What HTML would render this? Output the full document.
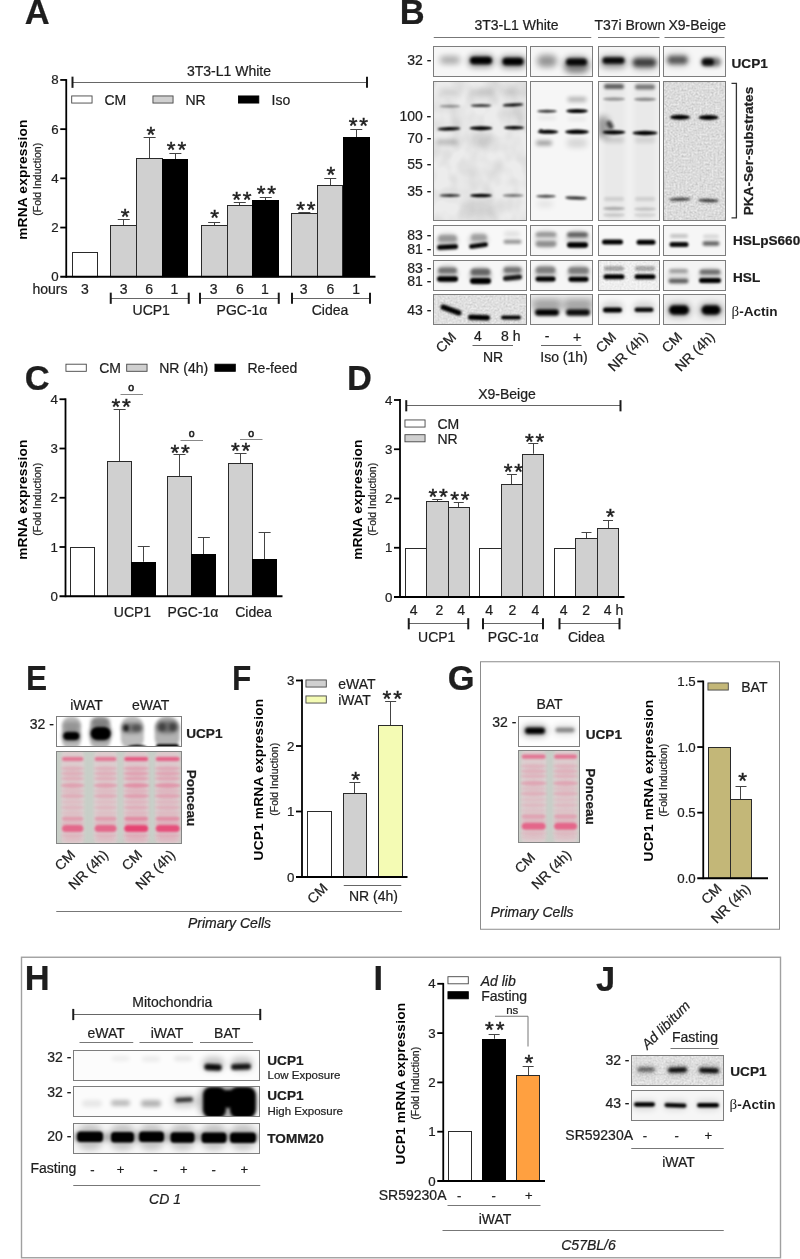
<!DOCTYPE html>
<html lang="en"><head><meta charset="utf-8"><title>Figure</title>
<style>html,body{margin:0;padding:0;background:#fff}svg{display:block}text{white-space:pre}</style></head>
<body>
<svg width="800" height="1259" viewBox="0 0 800 1259" font-family="'Liberation Sans', Arial, sans-serif" fill="#1e1e1e"><defs><filter id="b06" x="-50%" y="-200%" width="200%" height="500%"><feGaussianBlur stdDeviation="0.6"/></filter><filter id="b08" x="-50%" y="-200%" width="200%" height="500%"><feGaussianBlur stdDeviation="0.85"/></filter><filter id="b1" x="-50%" y="-200%" width="200%" height="500%"><feGaussianBlur stdDeviation="1.1"/></filter><filter id="b15" x="-50%" y="-200%" width="200%" height="500%"><feGaussianBlur stdDeviation="1.5"/></filter><filter id="b2" x="-50%" y="-200%" width="200%" height="500%"><feGaussianBlur stdDeviation="2.0"/></filter><filter id="b3" x="-50%" y="-200%" width="200%" height="500%"><feGaussianBlur stdDeviation="3.0"/></filter><filter id="b4" x="-50%" y="-200%" width="200%" height="500%"><feGaussianBlur stdDeviation="4.5"/></filter><filter id="grain" x="0" y="0" width="100%" height="100%"><feTurbulence type="fractalNoise" baseFrequency="0.5" numOctaves="2" seed="3"/><feColorMatrix type="matrix" values="0 0 0 0 0  0 0 0 0 0  0 0 0 0 0  0.9 0.9 0 0 -0.6"/></filter><filter id="cloud" x="0" y="0" width="100%" height="100%"><feTurbulence type="fractalNoise" baseFrequency="0.06 0.05" numOctaves="2" seed="7" result="n"/><feColorMatrix in="n" type="matrix" values="0 0 0 0 0  0 0 0 0 0  0 0 0 0 0  1.8 0 0 0 -0.65"/></filter><clipPath id="c1"><rect x="433.50" y="46.50" width="93.00" height="30.00"/></clipPath><clipPath id="c2"><rect x="530.50" y="46.50" width="62.00" height="30.00"/></clipPath><clipPath id="c3"><rect x="598.50" y="46.50" width="61.00" height="30.00"/></clipPath><clipPath id="c4"><rect x="663.50" y="46.50" width="62.00" height="30.00"/></clipPath><clipPath id="c5"><rect x="433.50" y="81.50" width="93.00" height="139.00"/></clipPath><clipPath id="c6"><rect x="530.50" y="81.50" width="62.00" height="139.00"/></clipPath><clipPath id="c7"><rect x="598.50" y="81.50" width="61.00" height="139.00"/></clipPath><clipPath id="c8"><rect x="663.50" y="81.50" width="62.00" height="139.00"/></clipPath><clipPath id="c9"><rect x="433.50" y="225.50" width="93.00" height="30.00"/></clipPath><clipPath id="c10"><rect x="530.50" y="225.50" width="62.00" height="30.00"/></clipPath><clipPath id="c11"><rect x="598.50" y="225.50" width="61.00" height="30.00"/></clipPath><clipPath id="c12"><rect x="663.50" y="225.50" width="62.00" height="30.00"/></clipPath><clipPath id="c13"><rect x="433.50" y="260.50" width="93.00" height="30.00"/></clipPath><clipPath id="c14"><rect x="530.50" y="260.50" width="62.00" height="30.00"/></clipPath><clipPath id="c15"><rect x="598.50" y="260.50" width="61.00" height="30.00"/></clipPath><clipPath id="c16"><rect x="663.50" y="260.50" width="62.00" height="30.00"/></clipPath><clipPath id="c17"><rect x="433.50" y="294.50" width="93.00" height="30.00"/></clipPath><clipPath id="c18"><rect x="530.50" y="294.50" width="62.00" height="30.00"/></clipPath><clipPath id="c19"><rect x="598.50" y="294.50" width="61.00" height="30.00"/></clipPath><clipPath id="c20"><rect x="663.50" y="294.50" width="62.00" height="30.00"/></clipPath><clipPath id="c21"><rect x="56.50" y="716.50" width="125.00" height="30.00"/></clipPath><clipPath id="c22"><rect x="56.50" y="751.50" width="125.00" height="92.00"/></clipPath><clipPath id="c23"><rect x="518.50" y="716.50" width="61.00" height="30.00"/></clipPath><clipPath id="c24"><rect x="518.50" y="750.50" width="61.00" height="92.00"/></clipPath><clipPath id="c25"><rect x="73.50" y="1050.50" width="186.00" height="30.00"/></clipPath><clipPath id="c26"><rect x="73.50" y="1086.50" width="186.00" height="30.00"/></clipPath><clipPath id="c27"><rect x="73.50" y="1123.50" width="186.00" height="30.00"/></clipPath><clipPath id="c28"><rect x="631.50" y="1055.50" width="92.00" height="30.00"/></clipPath><clipPath id="c29"><rect x="631.50" y="1090.50" width="92.00" height="30.00"/></clipPath></defs>
<line x1="72.5" y1="82.5" x2="367" y2="82.5" stroke="#666" stroke-width="1"/>
<line x1="72.5" y1="76.65" x2="72.5" y2="87.85" stroke="#1a1a1a" stroke-width="2"/>
<line x1="367" y1="76.65" x2="367" y2="87.85" stroke="#1a1a1a" stroke-width="2"/>
<rect x="71.70" y="95.95" width="20.35" height="7.10" fill="#fff" stroke="#444" stroke-width="0.9"/>
<rect x="152.95" y="95.95" width="20.10" height="7.10" fill="#d0d0d0" stroke="#444" stroke-width="0.9"/>
<rect x="238.45" y="95.95" width="20.35" height="7.10" fill="#000" stroke="#000" stroke-width="0.9"/>
<rect x="72.50" y="252.50" width="25.00" height="24.25" fill="#fff" stroke="#2a2a2a" stroke-width="1"/>
<line x1="123.5" y1="219.25" x2="123.5" y2="225" stroke="#444" stroke-width="1"/>
<line x1="117.75" y1="219.5" x2="129.75" y2="219.5" stroke="#444" stroke-width="1"/>
<rect x="110.50" y="225.50" width="26.00" height="51.25" fill="#d0d0d0" stroke="#2a2a2a" stroke-width="1"/>
<line x1="149.5" y1="137.25" x2="149.5" y2="158.25" stroke="#444" stroke-width="1"/>
<line x1="143.625" y1="137.5" x2="155.625" y2="137.5" stroke="#444" stroke-width="1"/>
<rect x="136.50" y="158.50" width="26.00" height="118.25" fill="#d0d0d0" stroke="#2a2a2a" stroke-width="1"/>
<line x1="175.5" y1="153.25" x2="175.5" y2="159" stroke="#444" stroke-width="1"/>
<line x1="169.375" y1="153.5" x2="181.375" y2="153.5" stroke="#444" stroke-width="1"/>
<rect x="162.50" y="159.50" width="25.00" height="117.25" fill="#000" stroke="#000" stroke-width="1"/>
<line x1="214.5" y1="222" x2="214.5" y2="225" stroke="#444" stroke-width="1"/>
<line x1="208.125" y1="222.5" x2="220.125" y2="222.5" stroke="#444" stroke-width="1"/>
<rect x="201.50" y="225.50" width="26.00" height="51.25" fill="#d0d0d0" stroke="#2a2a2a" stroke-width="1"/>
<line x1="239.5" y1="203" x2="239.5" y2="205.5" stroke="#444" stroke-width="1"/>
<line x1="233.75" y1="202.5" x2="245.75" y2="202.5" stroke="#444" stroke-width="1"/>
<rect x="227.50" y="205.50" width="25.00" height="71.25" fill="#d0d0d0" stroke="#2a2a2a" stroke-width="1"/>
<line x1="265.5" y1="197.5" x2="265.5" y2="200" stroke="#444" stroke-width="1"/>
<line x1="259.75" y1="197.5" x2="271.75" y2="197.5" stroke="#444" stroke-width="1"/>
<rect x="252.50" y="200.50" width="26.00" height="76.25" fill="#000" stroke="#000" stroke-width="1"/>
<line x1="304.5" y1="212.5" x2="304.5" y2="213.25" stroke="#444" stroke-width="1"/>
<line x1="298.375" y1="212.5" x2="310.375" y2="212.5" stroke="#444" stroke-width="1"/>
<rect x="291.50" y="213.50" width="26.00" height="63.25" fill="#d0d0d0" stroke="#2a2a2a" stroke-width="1"/>
<line x1="330.5" y1="178.25" x2="330.5" y2="185.25" stroke="#444" stroke-width="1"/>
<line x1="324.25" y1="178.5" x2="336.25" y2="178.5" stroke="#444" stroke-width="1"/>
<rect x="317.50" y="185.50" width="25.00" height="91.25" fill="#d0d0d0" stroke="#2a2a2a" stroke-width="1"/>
<line x1="356.5" y1="129.25" x2="356.5" y2="137" stroke="#444" stroke-width="1"/>
<line x1="350.25" y1="129.5" x2="362.25" y2="129.5" stroke="#444" stroke-width="1"/>
<rect x="343.50" y="137.50" width="26.00" height="139.25" fill="#000" stroke="#000" stroke-width="1"/>
<line x1="66.25" y1="79.1" x2="66.25" y2="277.65" stroke="#000" stroke-width="1.8"/>
<line x1="60.25" y1="276.75" x2="375.5" y2="276.75" stroke="#000" stroke-width="1.8"/>
<line x1="60.25" y1="79.94999999999999" x2="66.25" y2="79.94999999999999" stroke="#000" stroke-width="1.8"/>
<line x1="60.25" y1="129.14999999999998" x2="66.25" y2="129.14999999999998" stroke="#000" stroke-width="1.8"/>
<line x1="60.25" y1="178.35" x2="66.25" y2="178.35" stroke="#000" stroke-width="1.8"/>
<line x1="60.25" y1="227.55" x2="66.25" y2="227.55" stroke="#000" stroke-width="1.8"/>
<text transform="translate(27.1 179.6) rotate(-90) scale(1.06 1)" font-size="13" font-weight="bold" text-anchor="middle" fill="#000" letter-spacing="0.15">mRNA expression</text>
<line x1="110.75" y1="298.5" x2="188.75" y2="298.5" stroke="#666" stroke-width="1"/>
<line x1="110.75" y1="292.65" x2="110.75" y2="303.85" stroke="#1a1a1a" stroke-width="2"/>
<line x1="188.75" y1="292.65" x2="188.75" y2="303.85" stroke="#1a1a1a" stroke-width="2"/>
<line x1="200" y1="298.5" x2="278.75" y2="298.5" stroke="#666" stroke-width="1"/>
<line x1="200" y1="292.65" x2="200" y2="303.85" stroke="#1a1a1a" stroke-width="2"/>
<line x1="278.75" y1="292.65" x2="278.75" y2="303.85" stroke="#1a1a1a" stroke-width="2"/>
<line x1="292" y1="298.5" x2="370" y2="298.5" stroke="#666" stroke-width="1"/>
<line x1="292" y1="292.65" x2="292" y2="303.85" stroke="#1a1a1a" stroke-width="2"/>
<line x1="370" y1="292.65" x2="370" y2="303.85" stroke="#1a1a1a" stroke-width="2"/>
<line x1="433.75" y1="37.5" x2="591.25" y2="37.5" stroke="#777" stroke-width="1"/>
<line x1="598" y1="37.5" x2="659.5" y2="37.5" stroke="#777" stroke-width="1"/>
<line x1="664.5" y1="37.5" x2="724.5" y2="37.5" stroke="#777" stroke-width="1"/>
<g clip-path="url(#c1)"><rect x="433.50" y="46.50" width="93.00" height="30.00" fill="#f6f6f6"/><rect x="440.00" y="56.50" width="20.00" height="7.00" rx="3.50" fill="#000" opacity="0.35" filter="url(#b3)"/><rect x="470.00" y="56.75" width="22.00" height="7.50" rx="3.75" fill="#000" opacity="1" filter="url(#b15)"/><rect x="468.00" y="55.00" width="26.00" height="12.00" rx="6.00" fill="#000" opacity="0.45" filter="url(#b3)"/><rect x="502.50" y="57.75" width="21.00" height="7.50" rx="3.75" fill="#000" opacity="1" filter="url(#b15)"/><rect x="500.00" y="56.00" width="26.00" height="12.00" rx="6.00" fill="#000" opacity="0.45" filter="url(#b3)"/></g><rect x="433.50" y="46.50" width="93.00" height="30.00" fill="none" stroke="#7d7d7d" stroke-width="1"/>
<g clip-path="url(#c2)"><rect x="530.50" y="46.50" width="62.00" height="30.00" fill="#f6f6f6"/><rect x="537.00" y="55.00" width="20.00" height="12.00" rx="6.00" fill="#000" opacity="0.4" filter="url(#b3)"/><rect x="566.00" y="58.50" width="21.00" height="7.00" rx="3.50" fill="#000" opacity="0.95" filter="url(#b15)"/><rect x="563.50" y="57.00" width="26.00" height="16.00" rx="8.00" fill="#000" opacity="0.5" filter="url(#b3)"/></g><rect x="530.50" y="46.50" width="62.00" height="30.00" fill="none" stroke="#7d7d7d" stroke-width="1"/>
<g clip-path="url(#c3)"><rect x="598.50" y="46.50" width="61.00" height="30.00" fill="#f4f4f4"/><rect x="602.50" y="57.25" width="22.00" height="6.50" rx="3.25" fill="#000" opacity="0.95" filter="url(#b15)"/><rect x="600.50" y="56.00" width="26.00" height="12.00" rx="6.00" fill="#000" opacity="0.4" filter="url(#b3)"/><rect x="633.00" y="58.50" width="23.00" height="8.00" rx="4.00" fill="#000" opacity="0.65" filter="url(#b2)"/><rect x="631.50" y="56.50" width="26.00" height="13.00" rx="6.50" fill="#000" opacity="0.3" filter="url(#b3)"/></g><rect x="598.50" y="46.50" width="61.00" height="30.00" fill="none" stroke="#7d7d7d" stroke-width="1"/>
<g clip-path="url(#c4)"><rect x="663.50" y="46.50" width="62.00" height="30.00" fill="#f6f6f6"/><rect x="667.50" y="56.00" width="20.00" height="8.00" rx="4.00" fill="#000" opacity="0.55" filter="url(#b2)"/><rect x="665.50" y="53.50" width="24.00" height="13.00" rx="6.50" fill="#000" opacity="0.2" filter="url(#b3)"/><rect x="702.00" y="58.50" width="12.00" height="7.00" rx="3.50" fill="#000" opacity="0.9" filter="url(#b15)"/><rect x="701.00" y="57.50" width="20.00" height="9.00" rx="4.50" fill="#000" opacity="0.55" filter="url(#b2)"/></g><rect x="663.50" y="46.50" width="62.00" height="30.00" fill="none" stroke="#7d7d7d" stroke-width="1"/>
<g clip-path="url(#c5)"><rect x="433.50" y="81.50" width="93.00" height="139.00" fill="#ececec"/><rect x="433.50" y="81.50" width="93.00" height="139.00" fill="#000" opacity="0.1" filter="url(#cloud)"/><rect x="439.00" y="89.00" width="22.00" height="7.00" rx="3.50" fill="#000" opacity="0.13" filter="url(#b3)"/><ellipse cx="450.00" cy="106.30" rx="10.50" ry="1.50" fill="#000" opacity="0.35" filter="url(#b08)"/><ellipse cx="449.00" cy="128.80" rx="11.50" ry="1.80" fill="#000" opacity="1" filter="url(#b08)" transform="rotate(-2 449 128.79999999999998)"/><ellipse cx="450.00" cy="195.50" rx="10.50" ry="1.50" fill="#000" opacity="0.8" filter="url(#b08)"/><rect x="470.00" y="89.00" width="22.00" height="7.00" rx="3.50" fill="#000" opacity="0.13" filter="url(#b3)"/><ellipse cx="481.00" cy="105.60" rx="10.50" ry="1.50" fill="#000" opacity="0.75" filter="url(#b08)"/><ellipse cx="481.00" cy="128.20" rx="11.50" ry="2.00" fill="#000" opacity="1" filter="url(#b08)"/><ellipse cx="481.00" cy="195.50" rx="11.00" ry="1.80" fill="#000" opacity="1" filter="url(#b08)"/><rect x="502.00" y="89.00" width="22.00" height="7.00" rx="3.50" fill="#000" opacity="0.13" filter="url(#b3)"/><ellipse cx="513.00" cy="104.90" rx="10.50" ry="1.50" fill="#000" opacity="1" filter="url(#b08)" transform="rotate(-3 513 104.89999999999999)"/><ellipse cx="514.00" cy="127.80" rx="10.00" ry="1.70" fill="#000" opacity="1" filter="url(#b08)"/><ellipse cx="513.00" cy="195.50" rx="10.50" ry="1.40" fill="#000" opacity="0.5" filter="url(#b08)"/><rect x="437.00" y="139.50" width="20.00" height="5.00" rx="2.50" fill="#000" opacity="0.2" filter="url(#b2)"/><rect x="469.00" y="132.00" width="22.00" height="16.00" rx="8.00" fill="#000" opacity="0.12" filter="url(#b4)"/><rect x="463.00" y="201.00" width="30.00" height="18.00" rx="9.00" fill="#000" opacity="0.1" filter="url(#b4)"/><rect x="516.00" y="100.00" width="8.00" height="30.00" rx="4.00" fill="#000" opacity="0.08" filter="url(#b3)"/></g><rect x="433.50" y="81.50" width="93.00" height="139.00" fill="none" stroke="#7d7d7d" stroke-width="1"/>
<g clip-path="url(#c6)"><rect x="530.50" y="81.50" width="62.00" height="139.00" fill="#f6f6f6"/><ellipse cx="547.00" cy="111.30" rx="10.00" ry="1.50" fill="#000" opacity="0.8" filter="url(#b08)"/><ellipse cx="577.00" cy="111.00" rx="11.00" ry="2.00" fill="#000" opacity="1" filter="url(#b08)"/><rect x="567.50" y="97.25" width="19.00" height="4.50" rx="2.25" fill="#000" opacity="0.3" filter="url(#b2)"/><ellipse cx="548.00" cy="131.80" rx="10.50" ry="2.00" fill="#000" opacity="1" filter="url(#b08)"/><rect x="539.00" y="129.00" width="4.00" height="3.00" rx="1.50" fill="#000" opacity="0.7" filter="url(#b08)"/><ellipse cx="577.00" cy="131.80" rx="12.00" ry="2.30" fill="#000" opacity="1" filter="url(#b08)"/><rect x="536.00" y="140.75" width="16.00" height="4.50" rx="2.25" fill="#000" opacity="0.4" filter="url(#b2)"/><rect x="567.00" y="139.00" width="20.00" height="8.00" rx="4.00" fill="#000" opacity="0.15" filter="url(#b3)"/><ellipse cx="546.00" cy="196.30" rx="10.00" ry="1.50" fill="#000" opacity="0.7" filter="url(#b08)"/><ellipse cx="576.00" cy="198.00" rx="11.00" ry="1.60" fill="#000" opacity="0.85" filter="url(#b08)" transform="rotate(2 576 198)"/><rect x="537.00" y="201.50" width="16.00" height="5.00" rx="2.50" fill="#000" opacity="0.1" filter="url(#b3)"/><rect x="538.00" y="116.50" width="18.00" height="3.00" rx="1.50" fill="#000" opacity="0.08" filter="url(#b2)"/><rect x="568.00" y="117.50" width="18.00" height="3.00" rx="1.50" fill="#000" opacity="0.08" filter="url(#b2)"/></g><rect x="530.50" y="81.50" width="62.00" height="139.00" fill="none" stroke="#7d7d7d" stroke-width="1"/>
<g clip-path="url(#c7)"><rect x="598.50" y="81.50" width="61.00" height="139.00" fill="#f2f2f2"/><rect x="604.00" y="84.00" width="20.00" height="5.00" rx="2.50" fill="#000" opacity="0.6" filter="url(#b15)"/><rect x="635.00" y="84.50" width="20.00" height="5.00" rx="2.50" fill="#000" opacity="0.5" filter="url(#b15)"/><ellipse cx="614.00" cy="99.00" rx="11.00" ry="1.75" fill="#000" opacity="0.35" filter="url(#b1)"/><ellipse cx="645.00" cy="99.30" rx="11.00" ry="1.75" fill="#000" opacity="0.4" filter="url(#b1)"/><ellipse cx="614.00" cy="132.30" rx="11.50" ry="2.10" fill="#000" opacity="1" filter="url(#b08)"/><ellipse cx="645.00" cy="133.00" rx="12.50" ry="2.20" fill="#000" opacity="1" filter="url(#b08)"/><rect x="607.50" y="120.50" width="5.00" height="9.00" rx="2.50" fill="#000" opacity="0.7" filter="url(#b15)" transform="rotate(-30 610 125)"/><rect x="597.00" y="116.00" width="12.00" height="22.00" rx="6.00" fill="#000" opacity="0.35" filter="url(#b3)"/><rect x="604.00" y="137.50" width="20.00" height="5.00" rx="2.50" fill="#000" opacity="0.15" filter="url(#b2)"/><rect x="635.00" y="137.50" width="20.00" height="5.00" rx="2.50" fill="#000" opacity="0.12" filter="url(#b2)"/><rect x="604.00" y="197.50" width="20.00" height="3.00" rx="1.50" fill="#000" opacity="0.15" filter="url(#b15)"/><rect x="635.00" y="197.50" width="20.00" height="3.00" rx="1.50" fill="#000" opacity="0.15" filter="url(#b15)"/><ellipse cx="614.00" cy="208.50" rx="11.00" ry="1.80" fill="#000" opacity="0.26" filter="url(#b1)"/><ellipse cx="645.00" cy="209.00" rx="11.00" ry="1.80" fill="#000" opacity="0.16" filter="url(#b1)"/><ellipse cx="614.00" cy="215.00" rx="11.00" ry="1.80" fill="#000" opacity="0.14" filter="url(#b1)"/><ellipse cx="645.00" cy="215.00" rx="11.00" ry="1.80" fill="#000" opacity="0.1" filter="url(#b1)"/><rect x="602.00" y="75.00" width="24.00" height="150.00" rx="12.00" fill="#000" opacity="0.035" filter="url(#b3)"/><rect x="633.00" y="75.00" width="24.00" height="150.00" rx="12.00" fill="#000" opacity="0.035" filter="url(#b3)"/></g><rect x="598.50" y="81.50" width="61.00" height="139.00" fill="none" stroke="#7d7d7d" stroke-width="1"/>
<g clip-path="url(#c8)"><rect x="663.50" y="81.50" width="62.00" height="139.00" fill="#e9e9e9"/><ellipse cx="680.00" cy="117.20" rx="10.00" ry="2.50" fill="#000" opacity="1" filter="url(#b08)"/><ellipse cx="708.50" cy="117.50" rx="10.00" ry="2.50" fill="#000" opacity="1" filter="url(#b08)"/><ellipse cx="680.00" cy="199.30" rx="11.00" ry="1.80" fill="#000" opacity="0.65" filter="url(#b08)" transform="rotate(-2 680 199.3)"/><ellipse cx="708.50" cy="200.50" rx="10.50" ry="1.80" fill="#000" opacity="0.7" filter="url(#b08)" transform="rotate(2 708.5 200.5)"/><rect x="663.50" y="81.50" width="62.00" height="139.00" fill="#000" opacity="0.2" filter="url(#grain)"/></g><rect x="663.50" y="81.50" width="62.00" height="139.00" fill="none" stroke="#7d7d7d" stroke-width="1"/>
<g clip-path="url(#c9)"><rect x="433.50" y="225.50" width="93.00" height="30.00" fill="#f8f8f8"/><rect x="436.50" y="233.00" width="22.00" height="16.00" rx="8.00" fill="#000" opacity="0.14" filter="url(#b2)"/><rect x="468.00" y="232.50" width="21.00" height="15.00" rx="7.50" fill="#000" opacity="0.12" filter="url(#b2)"/><rect x="438.00" y="235.00" width="19.00" height="7.00" rx="3.50" fill="#000" opacity="0.28" filter="url(#b15)"/><rect x="437.00" y="244.50" width="21.00" height="5.00" rx="2.50" fill="#000" opacity="1" filter="url(#b1)" transform="rotate(-3 447.5 247)"/><rect x="471.00" y="234.00" width="16.00" height="7.00" rx="3.50" fill="#000" opacity="0.25" filter="url(#b15)"/><rect x="469.00" y="243.25" width="19.00" height="4.50" rx="2.25" fill="#000" opacity="1" filter="url(#b1)" transform="rotate(-8 478.5 245.5)"/><rect x="503.50" y="239.80" width="18.00" height="4.00" rx="2.00" fill="#000" opacity="0.4" filter="url(#b15)"/><rect x="504.00" y="231.50" width="16.00" height="5.00" rx="2.50" fill="#000" opacity="0.1" filter="url(#b2)"/></g><rect x="433.50" y="225.50" width="93.00" height="30.00" fill="none" stroke="#7d7d7d" stroke-width="1"/>
<g clip-path="url(#c10)"><rect x="530.50" y="225.50" width="62.00" height="30.00" fill="#f6f6f6"/><rect x="534.50" y="230.00" width="23.00" height="18.00" rx="9.00" fill="#000" opacity="0.1" filter="url(#b2)"/><rect x="566.00" y="230.00" width="23.00" height="18.00" rx="9.00" fill="#000" opacity="0.14" filter="url(#b2)"/><rect x="535.50" y="232.00" width="21.00" height="5.00" rx="2.50" fill="#000" opacity="0.3" filter="url(#b15)"/><rect x="535.50" y="241.00" width="21.00" height="6.00" rx="3.00" fill="#000" opacity="0.35" filter="url(#b15)"/><rect x="567.00" y="232.30" width="21.00" height="5.00" rx="2.50" fill="#000" opacity="0.55" filter="url(#b15)"/><rect x="567.00" y="242.25" width="21.00" height="5.50" rx="2.75" fill="#000" opacity="1" filter="url(#b1)"/></g><rect x="530.50" y="225.50" width="62.00" height="30.00" fill="none" stroke="#7d7d7d" stroke-width="1"/>
<g clip-path="url(#c11)"><rect x="598.50" y="225.50" width="61.00" height="30.00" fill="#f8f8f8"/><rect x="602.00" y="239.50" width="21.00" height="5.00" rx="2.50" fill="#000" opacity="1" filter="url(#b1)"/><rect x="636.50" y="239.80" width="19.00" height="5.00" rx="2.50" fill="#000" opacity="1" filter="url(#b1)"/></g><rect x="598.50" y="225.50" width="61.00" height="30.00" fill="none" stroke="#7d7d7d" stroke-width="1"/>
<g clip-path="url(#c12)"><rect x="663.50" y="225.50" width="62.00" height="30.00" fill="#f6f6f6"/><rect x="670.00" y="234.00" width="18.00" height="4.00" rx="2.00" fill="#000" opacity="0.2" filter="url(#b15)"/><rect x="669.50" y="242.00" width="19.00" height="5.00" rx="2.50" fill="#000" opacity="0.95" filter="url(#b1)"/><rect x="703.00" y="234.50" width="16.00" height="4.00" rx="2.00" fill="#000" opacity="0.12" filter="url(#b15)"/><rect x="702.50" y="241.25" width="17.00" height="4.50" rx="2.25" fill="#000" opacity="0.6" filter="url(#b15)"/></g><rect x="663.50" y="225.50" width="62.00" height="30.00" fill="none" stroke="#7d7d7d" stroke-width="1"/>
<g clip-path="url(#c13)"><rect x="433.50" y="260.50" width="93.00" height="30.00" fill="#f6f6f6"/><rect x="436.50" y="265.00" width="22.00" height="18.00" rx="9.00" fill="#000" opacity="0.16" filter="url(#b2)"/><rect x="469.00" y="267.00" width="23.00" height="18.00" rx="9.00" fill="#000" opacity="0.18" filter="url(#b2)"/><rect x="502.00" y="265.00" width="21.00" height="16.00" rx="8.00" fill="#000" opacity="0.14" filter="url(#b2)"/><rect x="438.00" y="267.50" width="19.00" height="6.00" rx="3.00" fill="#000" opacity="0.45" filter="url(#b15)"/><rect x="437.00" y="276.25" width="21.00" height="5.50" rx="2.75" fill="#000" opacity="1" filter="url(#b1)"/><rect x="470.50" y="268.50" width="20.00" height="7.00" rx="3.50" fill="#000" opacity="0.5" filter="url(#b15)"/><rect x="470.00" y="278.00" width="21.00" height="6.00" rx="3.00" fill="#000" opacity="1" filter="url(#b1)"/><rect x="503.50" y="267.00" width="18.00" height="6.00" rx="3.00" fill="#000" opacity="0.45" filter="url(#b15)"/><rect x="503.00" y="275.30" width="19.00" height="5.00" rx="2.50" fill="#000" opacity="0.9" filter="url(#b1)" transform="rotate(-6 512.5 277.8)"/></g><rect x="433.50" y="260.50" width="93.00" height="30.00" fill="none" stroke="#7d7d7d" stroke-width="1"/>
<g clip-path="url(#c14)"><rect x="530.50" y="260.50" width="62.00" height="30.00" fill="#f6f6f6"/><rect x="534.00" y="265.00" width="23.00" height="18.00" rx="9.00" fill="#000" opacity="0.15" filter="url(#b2)"/><rect x="567.00" y="265.00" width="23.00" height="18.00" rx="9.00" fill="#000" opacity="0.15" filter="url(#b2)"/><rect x="535.50" y="266.50" width="20.00" height="7.00" rx="3.50" fill="#000" opacity="0.4" filter="url(#b15)"/><rect x="535.50" y="276.50" width="20.00" height="5.00" rx="2.50" fill="#000" opacity="1" filter="url(#b1)"/><rect x="568.00" y="267.00" width="21.00" height="7.00" rx="3.50" fill="#000" opacity="0.4" filter="url(#b15)"/><rect x="568.50" y="276.70" width="20.00" height="5.00" rx="2.50" fill="#000" opacity="1" filter="url(#b1)"/></g><rect x="530.50" y="260.50" width="62.00" height="30.00" fill="none" stroke="#7d7d7d" stroke-width="1"/>
<g clip-path="url(#c15)"><rect x="598.50" y="260.50" width="61.00" height="30.00" fill="#f6f6f6"/><rect x="604.00" y="266.00" width="20.00" height="5.00" rx="2.50" fill="#000" opacity="0.3" filter="url(#b1)"/><rect x="603.50" y="274.30" width="21.00" height="5.00" rx="2.50" fill="#000" opacity="1" filter="url(#b1)"/><rect x="635.00" y="266.00" width="20.00" height="5.00" rx="2.50" fill="#000" opacity="0.3" filter="url(#b1)"/><rect x="634.50" y="274.30" width="21.00" height="5.00" rx="2.50" fill="#000" opacity="1" filter="url(#b1)"/><rect x="598.50" y="260.50" width="61.00" height="30.00" fill="#000" opacity="0.1" filter="url(#grain)"/></g><rect x="598.50" y="260.50" width="61.00" height="30.00" fill="none" stroke="#7d7d7d" stroke-width="1"/>
<g clip-path="url(#c16)"><rect x="663.50" y="260.50" width="62.00" height="30.00" fill="#f4f4f4"/><rect x="667.50" y="268.00" width="22.00" height="16.00" rx="8.00" fill="#000" opacity="0.08" filter="url(#b2)"/><rect x="698.50" y="268.00" width="23.00" height="16.00" rx="8.00" fill="#000" opacity="0.12" filter="url(#b2)"/><rect x="669.00" y="269.00" width="19.00" height="4.00" rx="2.00" fill="#000" opacity="0.3" filter="url(#b15)"/><rect x="668.50" y="278.75" width="20.00" height="4.50" rx="2.25" fill="#000" opacity="0.6" filter="url(#b15)"/><rect x="699.50" y="269.50" width="21.00" height="5.00" rx="2.50" fill="#000" opacity="0.5" filter="url(#b15)"/><rect x="699.00" y="278.00" width="22.00" height="5.00" rx="2.50" fill="#000" opacity="1" filter="url(#b1)"/></g><rect x="663.50" y="260.50" width="62.00" height="30.00" fill="none" stroke="#7d7d7d" stroke-width="1"/>
<g clip-path="url(#c17)"><rect x="433.50" y="294.50" width="93.00" height="30.00" fill="#ebebeb"/><rect x="440.00" y="307.25" width="22.00" height="5.50" rx="2.75" fill="#000" opacity="1" filter="url(#b1)" transform="rotate(20 451 310)"/><rect x="468.00" y="314.75" width="22.00" height="5.50" rx="2.75" fill="#000" opacity="1" filter="url(#b1)" transform="rotate(2 479 317.5)"/><rect x="501.00" y="315.40" width="20.00" height="4.20" rx="2.10" fill="#000" opacity="1" filter="url(#b1)"/><rect x="433.50" y="294.50" width="93.00" height="30.00" fill="#000" opacity="0.17" filter="url(#grain)"/></g><rect x="433.50" y="294.50" width="93.00" height="30.00" fill="none" stroke="#7d7d7d" stroke-width="1"/>
<g clip-path="url(#c18)"><rect x="530.50" y="294.50" width="62.00" height="30.00" fill="#f4f4f4"/><rect x="535.00" y="309.25" width="24.00" height="6.50" rx="3.25" fill="#000" opacity="1" filter="url(#b15)"/><rect x="566.00" y="309.25" width="24.00" height="6.50" rx="3.25" fill="#000" opacity="0.95" filter="url(#b15)"/><rect x="532.00" y="300.00" width="30.00" height="12.00" rx="6.00" fill="#000" opacity="0.3" filter="url(#b3)"/><rect x="563.00" y="300.00" width="30.00" height="12.00" rx="6.00" fill="#000" opacity="0.3" filter="url(#b3)"/><rect x="527.00" y="296.00" width="70.00" height="8.00" rx="4.00" fill="#000" opacity="0.1" filter="url(#b3)"/></g><rect x="530.50" y="294.50" width="62.00" height="30.00" fill="none" stroke="#7d7d7d" stroke-width="1"/>
<g clip-path="url(#c19)"><rect x="598.50" y="294.50" width="61.00" height="30.00" fill="#f8f8f8"/><rect x="603.00" y="307.50" width="19.00" height="5.00" rx="2.50" fill="#000" opacity="1" filter="url(#b1)"/><rect x="634.50" y="307.55" width="19.00" height="4.50" rx="2.25" fill="#000" opacity="0.95" filter="url(#b1)"/><rect x="601.50" y="302.00" width="22.00" height="12.00" rx="6.00" fill="#000" opacity="0.15" filter="url(#b3)"/><rect x="633.00" y="302.00" width="22.00" height="12.00" rx="6.00" fill="#000" opacity="0.15" filter="url(#b3)"/></g><rect x="598.50" y="294.50" width="61.00" height="30.00" fill="none" stroke="#7d7d7d" stroke-width="1"/>
<g clip-path="url(#c20)"><rect x="663.50" y="294.50" width="62.00" height="30.00" fill="#f0f0f0"/><rect x="669.00" y="305.25" width="20.00" height="9.50" rx="4.75" fill="#000" opacity="1" filter="url(#b15)"/><rect x="701.50" y="305.25" width="19.00" height="9.50" rx="4.75" fill="#000" opacity="1" filter="url(#b15)"/><rect x="667.00" y="303.00" width="24.00" height="14.00" rx="7.00" fill="#000" opacity="0.3" filter="url(#b3)"/><rect x="699.00" y="303.00" width="24.00" height="14.00" rx="7.00" fill="#000" opacity="0.3" filter="url(#b3)"/></g><rect x="663.50" y="294.50" width="62.00" height="30.00" fill="none" stroke="#7d7d7d" stroke-width="1"/>
<text x="731.5" y="316" font-size="13.6" font-weight="bold"><tspan font-family="'Liberation Serif', serif" font-weight="normal" font-size="15">β</tspan>-Actin</text>
<polyline points="731.5,83.3 736.4,83.3 736.4,217.8 731.5,217.8" fill="none" stroke="#333" stroke-width="1.3"/>
<line x1="472.5" y1="345.5" x2="513" y2="345.5" stroke="#666" stroke-width="1"/>
<line x1="541" y1="345.5" x2="581.5" y2="345.5" stroke="#666" stroke-width="1"/>
<rect x="65.95" y="364.20" width="20.35" height="7.10" fill="#fff" stroke="#444" stroke-width="0.9"/>
<rect x="126.70" y="364.20" width="20.35" height="7.10" fill="#d0d0d0" stroke="#444" stroke-width="0.9"/>
<rect x="214.95" y="364.20" width="20.35" height="7.10" fill="#000" stroke="#000" stroke-width="0.9"/>
<rect x="70.50" y="547.50" width="24.00" height="48.75" fill="#fff" stroke="#2a2a2a" stroke-width="1"/>
<line x1="119.5" y1="409.25" x2="119.5" y2="461.25" stroke="#444" stroke-width="1"/>
<line x1="113.625" y1="409.5" x2="125.625" y2="409.5" stroke="#444" stroke-width="1"/>
<rect x="107.50" y="461.50" width="24.00" height="134.75" fill="#d0d0d0" stroke="#2a2a2a" stroke-width="1"/>
<line x1="143.5" y1="547" x2="143.5" y2="561.75" stroke="#444" stroke-width="1"/>
<line x1="137.75" y1="546.5" x2="149.75" y2="546.5" stroke="#444" stroke-width="1"/>
<rect x="131.50" y="562.50" width="24.00" height="33.75" fill="#000" stroke="#000" stroke-width="1"/>
<line x1="179.5" y1="455" x2="179.5" y2="476.25" stroke="#444" stroke-width="1"/>
<line x1="173.5" y1="454.5" x2="185.5" y2="454.5" stroke="#444" stroke-width="1"/>
<rect x="167.50" y="476.50" width="24.00" height="119.75" fill="#d0d0d0" stroke="#2a2a2a" stroke-width="1"/>
<line x1="203.5" y1="537.5" x2="203.5" y2="554.25" stroke="#444" stroke-width="1"/>
<line x1="197.875" y1="537.5" x2="209.875" y2="537.5" stroke="#444" stroke-width="1"/>
<rect x="191.50" y="554.50" width="24.00" height="41.75" fill="#000" stroke="#000" stroke-width="1"/>
<line x1="240.5" y1="453.25" x2="240.5" y2="463.25" stroke="#444" stroke-width="1"/>
<line x1="234.5" y1="453.5" x2="246.5" y2="453.5" stroke="#444" stroke-width="1"/>
<rect x="228.50" y="463.50" width="24.00" height="132.75" fill="#d0d0d0" stroke="#2a2a2a" stroke-width="1"/>
<line x1="264.5" y1="532.5" x2="264.5" y2="559.25" stroke="#444" stroke-width="1"/>
<line x1="258.625" y1="532.5" x2="270.625" y2="532.5" stroke="#444" stroke-width="1"/>
<rect x="252.50" y="559.50" width="24.00" height="36.75" fill="#000" stroke="#000" stroke-width="1"/>
<line x1="120.5" y1="394.5" x2="143" y2="394.5" stroke="#888" stroke-width="1"/>
<line x1="180.5" y1="440.5" x2="203" y2="440.5" stroke="#888" stroke-width="1"/>
<line x1="240" y1="439.5" x2="262.5" y2="439.5" stroke="#888" stroke-width="1"/>
<line x1="65.5" y1="398.35" x2="65.5" y2="597.15" stroke="#000" stroke-width="1.8"/>
<line x1="59.5" y1="596.25" x2="282.5" y2="596.25" stroke="#000" stroke-width="1.8"/>
<line x1="59.5" y1="399.25" x2="65.5" y2="399.25" stroke="#000" stroke-width="1.8"/>
<line x1="59.5" y1="448.5" x2="65.5" y2="448.5" stroke="#000" stroke-width="1.8"/>
<line x1="59.5" y1="497.75" x2="65.5" y2="497.75" stroke="#000" stroke-width="1.8"/>
<line x1="59.5" y1="547.0" x2="65.5" y2="547.0" stroke="#000" stroke-width="1.8"/>
<text transform="translate(26.6 499.6) rotate(-90) scale(1.06 1)" font-size="13" font-weight="bold" text-anchor="middle" fill="#000" letter-spacing="0.15">mRNA expression</text>
<line x1="406.25" y1="405.5" x2="620.5" y2="405.5" stroke="#666" stroke-width="1"/>
<line x1="406.25" y1="400.15" x2="406.25" y2="411.35" stroke="#1a1a1a" stroke-width="2"/>
<line x1="620.5" y1="400.15" x2="620.5" y2="411.35" stroke="#1a1a1a" stroke-width="2"/>
<rect x="404.95" y="419.95" width="20.10" height="7.10" fill="#fff" stroke="#444" stroke-width="0.9"/>
<rect x="404.95" y="434.70" width="20.10" height="7.10" fill="#d0d0d0" stroke="#444" stroke-width="0.9"/>
<rect x="405.50" y="548.50" width="21.00" height="48.50" fill="#fff" stroke="#2a2a2a" stroke-width="1"/>
<line x1="437.5" y1="499.5" x2="437.5" y2="501.25" stroke="#444" stroke-width="1"/>
<line x1="432.25" y1="499.5" x2="442.25" y2="499.5" stroke="#444" stroke-width="1"/>
<rect x="426.50" y="501.50" width="22.00" height="95.50" fill="#d0d0d0" stroke="#2a2a2a" stroke-width="1"/>
<line x1="458.5" y1="502.5" x2="458.5" y2="507" stroke="#444" stroke-width="1"/>
<line x1="453.75" y1="502.5" x2="463.75" y2="502.5" stroke="#444" stroke-width="1"/>
<rect x="448.50" y="507.50" width="21.00" height="89.50" fill="#d0d0d0" stroke="#2a2a2a" stroke-width="1"/>
<rect x="479.50" y="548.50" width="22.00" height="48.50" fill="#fff" stroke="#2a2a2a" stroke-width="1"/>
<line x1="511.5" y1="474" x2="511.5" y2="484" stroke="#444" stroke-width="1"/>
<line x1="506.875" y1="474.5" x2="516.875" y2="474.5" stroke="#444" stroke-width="1"/>
<rect x="501.50" y="484.50" width="21.00" height="112.50" fill="#d0d0d0" stroke="#2a2a2a" stroke-width="1"/>
<line x1="533.5" y1="443.5" x2="533.5" y2="453.75" stroke="#444" stroke-width="1"/>
<line x1="528.25" y1="443.5" x2="538.25" y2="443.5" stroke="#444" stroke-width="1"/>
<rect x="522.50" y="454.50" width="21.00" height="142.50" fill="#d0d0d0" stroke="#2a2a2a" stroke-width="1"/>
<rect x="554.50" y="548.50" width="21.00" height="48.50" fill="#fff" stroke="#2a2a2a" stroke-width="1"/>
<line x1="586.5" y1="532" x2="586.5" y2="538" stroke="#444" stroke-width="1"/>
<line x1="581.5" y1="532.5" x2="591.5" y2="532.5" stroke="#444" stroke-width="1"/>
<rect x="575.50" y="538.50" width="22.00" height="58.50" fill="#d0d0d0" stroke="#2a2a2a" stroke-width="1"/>
<line x1="608.5" y1="520.5" x2="608.5" y2="528.25" stroke="#444" stroke-width="1"/>
<line x1="603.0" y1="520.5" x2="613.0" y2="520.5" stroke="#444" stroke-width="1"/>
<rect x="597.50" y="528.50" width="21.00" height="68.50" fill="#d0d0d0" stroke="#2a2a2a" stroke-width="1"/>
<line x1="400" y1="399.1" x2="400" y2="597.9" stroke="#000" stroke-width="1.8"/>
<line x1="394" y1="597" x2="624.5" y2="597" stroke="#000" stroke-width="1.8"/>
<line x1="394" y1="400.0" x2="400" y2="400.0" stroke="#000" stroke-width="1.8"/>
<line x1="394" y1="449.25" x2="400" y2="449.25" stroke="#000" stroke-width="1.8"/>
<line x1="394" y1="498.5" x2="400" y2="498.5" stroke="#000" stroke-width="1.8"/>
<line x1="394" y1="547.75" x2="400" y2="547.75" stroke="#000" stroke-width="1.8"/>
<text transform="translate(361.6 499.6) rotate(-90) scale(1.06 1)" font-size="13" font-weight="bold" text-anchor="middle" fill="#000" letter-spacing="0.15">mRNA expression</text>
<line x1="408.75" y1="623.5" x2="468.25" y2="623.5" stroke="#666" stroke-width="1"/>
<line x1="408.75" y1="618.15" x2="408.75" y2="629.35" stroke="#1a1a1a" stroke-width="2"/>
<line x1="468.25" y1="618.15" x2="468.25" y2="629.35" stroke="#1a1a1a" stroke-width="2"/>
<line x1="483" y1="623.5" x2="543" y2="623.5" stroke="#666" stroke-width="1"/>
<line x1="483" y1="618.15" x2="483" y2="629.35" stroke="#1a1a1a" stroke-width="2"/>
<line x1="543" y1="618.15" x2="543" y2="629.35" stroke="#1a1a1a" stroke-width="2"/>
<line x1="559.5" y1="623.5" x2="619.5" y2="623.5" stroke="#666" stroke-width="1"/>
<line x1="559.5" y1="618.15" x2="559.5" y2="629.35" stroke="#1a1a1a" stroke-width="2"/>
<line x1="619.5" y1="618.15" x2="619.5" y2="629.35" stroke="#1a1a1a" stroke-width="2"/>
<text transform="translate(26.0 689.6) scale(0.92 1)" font-size="34.5" font-weight="bold">E</text>
<g clip-path="url(#c21)"><rect x="56.50" y="716.50" width="125.00" height="30.00" fill="#ffffff"/><rect x="62.00" y="716.00" width="19.00" height="34.00" rx="9.50" fill="#000" opacity="0.25" filter="url(#b15)"/><rect x="62.50" y="721.50" width="18.00" height="9.00" rx="4.50" fill="#000" opacity="0.22" filter="url(#b2)"/><rect x="89.80" y="716.00" width="21.00" height="34.00" rx="10.50" fill="#000" opacity="0.28" filter="url(#b15)"/><rect x="90.80" y="718.00" width="19.00" height="8.00" rx="4.00" fill="#000" opacity="0.3" filter="url(#b2)"/><rect x="120.80" y="716.00" width="23.00" height="34.00" rx="11.50" fill="#000" opacity="0.26" filter="url(#b15)"/><rect x="121.50" y="723.00" width="21.00" height="10.00" rx="5.00" fill="#000" opacity="0.4" filter="url(#b2)"/><rect x="154.70" y="716.00" width="25.00" height="34.00" rx="12.50" fill="#000" opacity="0.3" filter="url(#b15)"/><rect x="156.20" y="721.00" width="22.00" height="12.00" rx="6.00" fill="#000" opacity="0.42" filter="url(#b2)"/><rect x="63.55" y="732.25" width="15.50" height="7.50" rx="3.75" fill="#000" opacity="1" filter="url(#b1)"/><rect x="62.30" y="731.00" width="18.00" height="10.00" rx="5.00" fill="#000" opacity="0.5" filter="url(#b2)"/><rect x="90.95" y="727.25" width="19.50" height="12.50" rx="6.25" fill="#000" opacity="1" filter="url(#b1)"/><rect x="89.70" y="726.00" width="22.00" height="15.00" rx="7.50" fill="#000" opacity="0.5" filter="url(#b2)"/><rect x="123.50" y="724.75" width="5.00" height="6.50" rx="2.50" fill="#000" opacity="0.75" filter="url(#b15)"/><rect x="132.50" y="724.50" width="9.00" height="7.00" rx="3.50" fill="#000" opacity="0.25" filter="url(#b15)"/><rect x="158.50" y="723.00" width="7.00" height="8.00" rx="3.50" fill="#000" opacity="0.35" filter="url(#b15)"/><rect x="169.50" y="723.00" width="7.00" height="8.00" rx="3.50" fill="#000" opacity="0.35" filter="url(#b15)"/><ellipse cx="137.00" cy="747.00" rx="9.50" ry="2.25" fill="#000" opacity="0.9" filter="url(#b1)"/><rect x="156.00" y="744.25" width="23.00" height="4.50" rx="2.25" fill="#000" opacity="1" filter="url(#b1)"/></g><rect x="56.50" y="716.50" width="125.00" height="30.00" fill="none" stroke="#7d7d7d" stroke-width="1"/>
<g clip-path="url(#c22)"><rect x="56.50" y="751.50" width="125.00" height="92.00" fill="#c8cfc8"/><rect x="61.20" y="746.00" width="23.00" height="103.50" rx="11.50" fill="#f0dde1" opacity="0.5" filter="url(#b15)"/><rect x="62.70" y="746.00" width="20.00" height="103.50" rx="10.00" fill="#e6406f" opacity="0.068" filter="url(#b2)"/><rect x="61.95" y="756.90" width="21.50" height="4.20" rx="2.10" fill="#e6406f" opacity="0.5920000000000002" filter="url(#b1)"/><ellipse cx="72.70" cy="768.50" rx="11.75" ry="2.00" fill="#e6406f" opacity="0.1768" filter="url(#b1)"/><ellipse cx="72.70" cy="773.50" rx="11.75" ry="2.10" fill="#e6406f" opacity="0.204" filter="url(#b1)"/><ellipse cx="72.70" cy="778.50" rx="11.75" ry="2.00" fill="#e6406f" opacity="0.1904" filter="url(#b1)"/><ellipse cx="72.70" cy="785.50" rx="11.75" ry="2.50" fill="#e6406f" opacity="0.2856" filter="url(#b1)"/><ellipse cx="72.70" cy="791.00" rx="11.75" ry="2.00" fill="#e6406f" opacity="0.1088" filter="url(#b1)"/><ellipse cx="72.70" cy="796.00" rx="11.75" ry="2.30" fill="#e6406f" opacity="0.204" filter="url(#b1)"/><ellipse cx="72.70" cy="802.00" rx="11.75" ry="2.00" fill="#e6406f" opacity="0.0952" filter="url(#b1)"/><ellipse cx="72.70" cy="807.50" rx="11.75" ry="2.00" fill="#e6406f" opacity="0.136" filter="url(#b1)"/><ellipse cx="72.70" cy="813.00" rx="11.75" ry="2.00" fill="#e6406f" opacity="0.0816" filter="url(#b1)"/><rect x="61.95" y="816.50" width="21.50" height="4.60" rx="2.30" fill="#e6406f" opacity="0.30600000000000005" filter="url(#b1)"/><ellipse cx="72.70" cy="823.50" rx="11.75" ry="2.00" fill="#e6406f" opacity="0.136" filter="url(#b1)"/><rect x="61.95" y="825.00" width="21.50" height="7.00" rx="3.50" fill="#e6406f" opacity="0.7030000000000001" filter="url(#b1)"/><ellipse cx="72.70" cy="835.50" rx="11.75" ry="2.00" fill="#e6406f" opacity="0.1496" filter="url(#b1)"/><ellipse cx="72.70" cy="839.50" rx="11.75" ry="2.00" fill="#e6406f" opacity="0.0816" filter="url(#b1)"/><rect x="93.85" y="746.00" width="23.50" height="103.50" rx="11.75" fill="#f0dde1" opacity="0.5" filter="url(#b15)"/><rect x="95.35" y="746.00" width="20.50" height="103.50" rx="10.25" fill="#e6406f" opacity="0.068" filter="url(#b2)"/><rect x="94.60" y="756.90" width="22.00" height="4.20" rx="2.10" fill="#e6406f" opacity="0.5920000000000002" filter="url(#b1)"/><ellipse cx="105.60" cy="768.50" rx="12.00" ry="2.00" fill="#e6406f" opacity="0.1768" filter="url(#b1)"/><ellipse cx="105.60" cy="773.50" rx="12.00" ry="2.10" fill="#e6406f" opacity="0.204" filter="url(#b1)"/><ellipse cx="105.60" cy="778.50" rx="12.00" ry="2.00" fill="#e6406f" opacity="0.1904" filter="url(#b1)"/><ellipse cx="105.60" cy="785.50" rx="12.00" ry="2.50" fill="#e6406f" opacity="0.2856" filter="url(#b1)"/><ellipse cx="105.60" cy="791.00" rx="12.00" ry="2.00" fill="#e6406f" opacity="0.1088" filter="url(#b1)"/><ellipse cx="105.60" cy="796.00" rx="12.00" ry="2.30" fill="#e6406f" opacity="0.204" filter="url(#b1)"/><ellipse cx="105.60" cy="802.00" rx="12.00" ry="2.00" fill="#e6406f" opacity="0.0952" filter="url(#b1)"/><ellipse cx="105.60" cy="807.50" rx="12.00" ry="2.00" fill="#e6406f" opacity="0.136" filter="url(#b1)"/><ellipse cx="105.60" cy="813.00" rx="12.00" ry="2.00" fill="#e6406f" opacity="0.0816" filter="url(#b1)"/><rect x="94.60" y="816.50" width="22.00" height="4.60" rx="2.30" fill="#e6406f" opacity="0.30600000000000005" filter="url(#b1)"/><ellipse cx="105.60" cy="823.50" rx="12.00" ry="2.00" fill="#e6406f" opacity="0.136" filter="url(#b1)"/><rect x="94.60" y="825.00" width="22.00" height="7.00" rx="3.50" fill="#e6406f" opacity="0.7030000000000001" filter="url(#b1)"/><ellipse cx="105.60" cy="835.50" rx="12.00" ry="2.00" fill="#e6406f" opacity="0.1496" filter="url(#b1)"/><ellipse cx="105.60" cy="839.50" rx="12.00" ry="2.00" fill="#e6406f" opacity="0.0816" filter="url(#b1)"/><rect x="123.45" y="746.00" width="25.50" height="103.50" rx="12.75" fill="#f0dde1" opacity="0.5" filter="url(#b15)"/><rect x="124.95" y="746.00" width="22.50" height="103.50" rx="11.25" fill="#e6406f" opacity="0.09350000000000001" filter="url(#b2)"/><rect x="124.20" y="756.90" width="24.00" height="4.20" rx="2.10" fill="#e6406f" opacity="0.8140000000000002" filter="url(#b1)"/><ellipse cx="136.20" cy="768.50" rx="13.00" ry="2.00" fill="#e6406f" opacity="0.2431" filter="url(#b1)"/><ellipse cx="136.20" cy="773.50" rx="13.00" ry="2.10" fill="#e6406f" opacity="0.2805" filter="url(#b1)"/><ellipse cx="136.20" cy="778.50" rx="13.00" ry="2.00" fill="#e6406f" opacity="0.26180000000000003" filter="url(#b1)"/><ellipse cx="136.20" cy="785.50" rx="13.00" ry="2.50" fill="#e6406f" opacity="0.3927" filter="url(#b1)"/><ellipse cx="136.20" cy="791.00" rx="13.00" ry="2.00" fill="#e6406f" opacity="0.1496" filter="url(#b1)"/><ellipse cx="136.20" cy="796.00" rx="13.00" ry="2.30" fill="#e6406f" opacity="0.2805" filter="url(#b1)"/><ellipse cx="136.20" cy="802.00" rx="13.00" ry="2.00" fill="#e6406f" opacity="0.13090000000000002" filter="url(#b1)"/><ellipse cx="136.20" cy="807.50" rx="13.00" ry="2.00" fill="#e6406f" opacity="0.18700000000000003" filter="url(#b1)"/><ellipse cx="136.20" cy="813.00" rx="13.00" ry="2.00" fill="#e6406f" opacity="0.11220000000000001" filter="url(#b1)"/><rect x="124.20" y="816.50" width="24.00" height="4.60" rx="2.30" fill="#e6406f" opacity="0.42075" filter="url(#b1)"/><ellipse cx="136.20" cy="823.50" rx="13.00" ry="2.00" fill="#e6406f" opacity="0.18700000000000003" filter="url(#b1)"/><rect x="124.20" y="825.00" width="24.00" height="7.00" rx="3.50" fill="#e6406f" opacity="0.966625" filter="url(#b1)"/><ellipse cx="136.20" cy="835.50" rx="13.00" ry="2.00" fill="#e6406f" opacity="0.20570000000000002" filter="url(#b1)"/><ellipse cx="136.20" cy="839.50" rx="13.00" ry="2.00" fill="#e6406f" opacity="0.11220000000000001" filter="url(#b1)"/><rect x="154.95" y="746.00" width="25.50" height="103.50" rx="12.75" fill="#f0dde1" opacity="0.5" filter="url(#b15)"/><rect x="156.45" y="746.00" width="22.50" height="103.50" rx="11.25" fill="#e6406f" opacity="0.085" filter="url(#b2)"/><rect x="155.70" y="756.90" width="24.00" height="4.20" rx="2.10" fill="#e6406f" opacity="0.7400000000000001" filter="url(#b1)"/><ellipse cx="167.70" cy="768.50" rx="13.00" ry="2.00" fill="#e6406f" opacity="0.221" filter="url(#b1)"/><ellipse cx="167.70" cy="773.50" rx="13.00" ry="2.10" fill="#e6406f" opacity="0.255" filter="url(#b1)"/><ellipse cx="167.70" cy="778.50" rx="13.00" ry="2.00" fill="#e6406f" opacity="0.23800000000000002" filter="url(#b1)"/><ellipse cx="167.70" cy="785.50" rx="13.00" ry="2.50" fill="#e6406f" opacity="0.357" filter="url(#b1)"/><ellipse cx="167.70" cy="791.00" rx="13.00" ry="2.00" fill="#e6406f" opacity="0.136" filter="url(#b1)"/><ellipse cx="167.70" cy="796.00" rx="13.00" ry="2.30" fill="#e6406f" opacity="0.255" filter="url(#b1)"/><ellipse cx="167.70" cy="802.00" rx="13.00" ry="2.00" fill="#e6406f" opacity="0.11900000000000001" filter="url(#b1)"/><ellipse cx="167.70" cy="807.50" rx="13.00" ry="2.00" fill="#e6406f" opacity="0.17" filter="url(#b1)"/><ellipse cx="167.70" cy="813.00" rx="13.00" ry="2.00" fill="#e6406f" opacity="0.102" filter="url(#b1)"/><rect x="155.70" y="816.50" width="24.00" height="4.60" rx="2.30" fill="#e6406f" opacity="0.3825" filter="url(#b1)"/><ellipse cx="167.70" cy="823.50" rx="13.00" ry="2.00" fill="#e6406f" opacity="0.17" filter="url(#b1)"/><rect x="155.70" y="825.00" width="24.00" height="7.00" rx="3.50" fill="#e6406f" opacity="0.87875" filter="url(#b1)"/><ellipse cx="167.70" cy="835.50" rx="13.00" ry="2.00" fill="#e6406f" opacity="0.187" filter="url(#b1)"/><ellipse cx="167.70" cy="839.50" rx="13.00" ry="2.00" fill="#e6406f" opacity="0.102" filter="url(#b1)"/></g><rect x="56.50" y="751.50" width="125.00" height="92.00" fill="none" stroke="#868686" stroke-width="1"/>
<text transform="translate(231.9 689.6) scale(0.92 1)" font-size="34.5" font-weight="bold">F</text>
<rect x="305.95" y="679.95" width="20.35" height="7.10" fill="#d0d0d0" stroke="#444" stroke-width="0.9"/>
<rect x="305.95" y="695.95" width="20.35" height="7.10" fill="#f4fbb4" stroke="#444" stroke-width="0.9"/>
<rect x="307.50" y="811.50" width="24.00" height="65.50" fill="#fff" stroke="#2a2a2a" stroke-width="1"/>
<line x1="354.5" y1="782.5" x2="354.5" y2="793.25" stroke="#444" stroke-width="1"/>
<line x1="349.375" y1="782.5" x2="360.375" y2="782.5" stroke="#444" stroke-width="1"/>
<rect x="343.50" y="793.50" width="23.00" height="83.50" fill="#d0d0d0" stroke="#2a2a2a" stroke-width="1"/>
<line x1="390.5" y1="701.75" x2="390.5" y2="725.5" stroke="#444" stroke-width="1"/>
<line x1="385.125" y1="701.5" x2="396.125" y2="701.5" stroke="#444" stroke-width="1"/>
<rect x="378.50" y="725.50" width="24.00" height="151.50" fill="#f4fbb4" stroke="#2a2a2a" stroke-width="1"/>
<line x1="302" y1="679.6" x2="302" y2="877.9" stroke="#000" stroke-width="1.8"/>
<line x1="296" y1="877" x2="407.5" y2="877" stroke="#000" stroke-width="1.8"/>
<line x1="296" y1="680.5" x2="302" y2="680.5" stroke="#000" stroke-width="1.8"/>
<line x1="296" y1="746.0" x2="302" y2="746.0" stroke="#000" stroke-width="1.8"/>
<line x1="296" y1="811.5" x2="302" y2="811.5" stroke="#000" stroke-width="1.8"/>
<text transform="translate(263.20000000000005 779.6) rotate(-90) scale(1.06 1)" font-size="13" font-weight="bold" text-anchor="middle" fill="#000" letter-spacing="0.15">UCP1 mRNA expression</text>
<line x1="343.75" y1="885.5" x2="401.25" y2="885.5" stroke="#666" stroke-width="1"/>
<line x1="56.25" y1="911.5" x2="402" y2="911.5" stroke="#777" stroke-width="1"/>
<rect x="480.50" y="661.75" width="299.00" height="267.50" fill="none" stroke="#8c8c8c" stroke-width="1"/>
<g clip-path="url(#c23)"><rect x="518.50" y="716.50" width="61.00" height="30.00" fill="#fdfdfd"/><rect x="525.00" y="727.55" width="20.00" height="6.50" rx="3.25" fill="#000" opacity="1" filter="url(#b15)"/><rect x="522.50" y="724.80" width="25.00" height="12.00" rx="6.00" fill="#000" opacity="0.3" filter="url(#b3)"/><rect x="555.50" y="727.75" width="19.00" height="4.50" rx="2.25" fill="#000" opacity="0.4" filter="url(#b15)"/><rect x="553.50" y="725.50" width="23.00" height="9.00" rx="4.50" fill="#000" opacity="0.14" filter="url(#b3)"/></g><rect x="518.50" y="716.50" width="61.00" height="30.00" fill="none" stroke="#7d7d7d" stroke-width="1"/>
<g clip-path="url(#c24)"><rect x="518.50" y="750.50" width="61.00" height="92.00" fill="#c8cfc8"/><rect x="520.95" y="745.00" width="25.50" height="103.50" rx="12.75" fill="#f0dde1" opacity="0.5" filter="url(#b15)"/><rect x="522.45" y="745.00" width="22.50" height="103.50" rx="11.25" fill="#e6406f" opacity="0.063" filter="url(#b2)"/><rect x="521.70" y="754.60" width="24.00" height="4.20" rx="2.10" fill="#e6406f" opacity="0.6120000000000001" filter="url(#b1)"/><ellipse cx="533.70" cy="766.20" rx="13.00" ry="2.00" fill="#e6406f" opacity="0.1638" filter="url(#b1)"/><ellipse cx="533.70" cy="771.20" rx="13.00" ry="2.10" fill="#e6406f" opacity="0.189" filter="url(#b1)"/><ellipse cx="533.70" cy="776.20" rx="13.00" ry="2.00" fill="#e6406f" opacity="0.17640000000000003" filter="url(#b1)"/><ellipse cx="533.70" cy="783.20" rx="13.00" ry="2.50" fill="#e6406f" opacity="0.2646" filter="url(#b1)"/><ellipse cx="533.70" cy="788.70" rx="13.00" ry="2.00" fill="#e6406f" opacity="0.1008" filter="url(#b1)"/><ellipse cx="533.70" cy="793.70" rx="13.00" ry="2.30" fill="#e6406f" opacity="0.189" filter="url(#b1)"/><ellipse cx="533.70" cy="799.70" rx="13.00" ry="2.00" fill="#e6406f" opacity="0.08820000000000001" filter="url(#b1)"/><ellipse cx="533.70" cy="805.20" rx="13.00" ry="2.00" fill="#e6406f" opacity="0.126" filter="url(#b1)"/><ellipse cx="533.70" cy="810.70" rx="13.00" ry="2.00" fill="#e6406f" opacity="0.0756" filter="url(#b1)"/><rect x="521.70" y="814.20" width="24.00" height="4.60" rx="2.30" fill="#e6406f" opacity="0.2835" filter="url(#b1)"/><ellipse cx="533.70" cy="821.20" rx="13.00" ry="2.00" fill="#e6406f" opacity="0.126" filter="url(#b1)"/><rect x="521.70" y="822.70" width="24.00" height="7.00" rx="3.50" fill="#e6406f" opacity="0.72675" filter="url(#b1)"/><ellipse cx="533.70" cy="833.20" rx="13.00" ry="2.00" fill="#e6406f" opacity="0.1386" filter="url(#b1)"/><ellipse cx="533.70" cy="837.20" rx="13.00" ry="2.00" fill="#e6406f" opacity="0.0756" filter="url(#b1)"/><rect x="553.35" y="745.00" width="24.50" height="103.50" rx="12.25" fill="#f0dde1" opacity="0.5" filter="url(#b15)"/><rect x="554.85" y="745.00" width="21.50" height="103.50" rx="10.75" fill="#e6406f" opacity="0.063" filter="url(#b2)"/><rect x="554.10" y="754.60" width="23.00" height="4.20" rx="2.10" fill="#e6406f" opacity="0.6120000000000001" filter="url(#b1)"/><ellipse cx="565.60" cy="766.20" rx="12.50" ry="2.00" fill="#e6406f" opacity="0.1638" filter="url(#b1)"/><ellipse cx="565.60" cy="771.20" rx="12.50" ry="2.10" fill="#e6406f" opacity="0.189" filter="url(#b1)"/><ellipse cx="565.60" cy="776.20" rx="12.50" ry="2.00" fill="#e6406f" opacity="0.17640000000000003" filter="url(#b1)"/><ellipse cx="565.60" cy="783.20" rx="12.50" ry="2.50" fill="#e6406f" opacity="0.2646" filter="url(#b1)"/><ellipse cx="565.60" cy="788.70" rx="12.50" ry="2.00" fill="#e6406f" opacity="0.1008" filter="url(#b1)"/><ellipse cx="565.60" cy="793.70" rx="12.50" ry="2.30" fill="#e6406f" opacity="0.189" filter="url(#b1)"/><ellipse cx="565.60" cy="799.70" rx="12.50" ry="2.00" fill="#e6406f" opacity="0.08820000000000001" filter="url(#b1)"/><ellipse cx="565.60" cy="805.20" rx="12.50" ry="2.00" fill="#e6406f" opacity="0.126" filter="url(#b1)"/><ellipse cx="565.60" cy="810.70" rx="12.50" ry="2.00" fill="#e6406f" opacity="0.0756" filter="url(#b1)"/><rect x="554.10" y="814.20" width="23.00" height="4.60" rx="2.30" fill="#e6406f" opacity="0.2835" filter="url(#b1)"/><ellipse cx="565.60" cy="821.20" rx="12.50" ry="2.00" fill="#e6406f" opacity="0.126" filter="url(#b1)"/><rect x="554.10" y="822.70" width="23.00" height="7.00" rx="3.50" fill="#e6406f" opacity="0.72675" filter="url(#b1)"/><ellipse cx="565.60" cy="833.20" rx="12.50" ry="2.00" fill="#e6406f" opacity="0.1386" filter="url(#b1)"/><ellipse cx="565.60" cy="837.20" rx="12.50" ry="2.00" fill="#e6406f" opacity="0.0756" filter="url(#b1)"/></g><rect x="518.50" y="750.50" width="61.00" height="92.00" fill="none" stroke="#868686" stroke-width="1"/>
<rect x="707.95" y="682.95" width="20.35" height="7.10" fill="#c3b778" stroke="#444" stroke-width="0.9"/>
<rect x="708.50" y="747.50" width="22.00" height="130.75" fill="#c3b778" stroke="#2a2a2a" stroke-width="1"/>
<line x1="740.5" y1="786.25" x2="740.5" y2="799.25" stroke="#444" stroke-width="1"/>
<line x1="735.5" y1="786.5" x2="746.5" y2="786.5" stroke="#444" stroke-width="1"/>
<rect x="730.50" y="799.50" width="21.00" height="78.75" fill="#c3b778" stroke="#2a2a2a" stroke-width="1"/>
<line x1="703.25" y1="680.5500000000001" x2="703.25" y2="879.15" stroke="#000" stroke-width="1.8"/>
<line x1="697.25" y1="878.25" x2="768" y2="878.25" stroke="#000" stroke-width="1.8"/>
<line x1="697.25" y1="681.45" x2="703.25" y2="681.45" stroke="#000" stroke-width="1.8"/>
<line x1="697.25" y1="747.05" x2="703.25" y2="747.05" stroke="#000" stroke-width="1.8"/>
<line x1="697.25" y1="812.65" x2="703.25" y2="812.65" stroke="#000" stroke-width="1.8"/>
<text transform="translate(652.6 780.6) rotate(-90) scale(1.06 1)" font-size="13" font-weight="bold" text-anchor="middle" fill="#000" letter-spacing="0.15">UCP1 mRNA expression</text>
<rect x="21.50" y="957.25" width="759.00" height="300.50" fill="none" stroke="#a0a0a0" stroke-width="1.4"/>
<line x1="73.25" y1="1014.5" x2="260.25" y2="1014.5" stroke="#666" stroke-width="1"/>
<line x1="73.25" y1="1008.9" x2="73.25" y2="1020.1" stroke="#1a1a1a" stroke-width="2"/>
<line x1="260.25" y1="1008.9" x2="260.25" y2="1020.1" stroke="#1a1a1a" stroke-width="2"/>
<line x1="79.5" y1="1042.5" x2="133.25" y2="1042.5" stroke="#777" stroke-width="1"/>
<line x1="139.5" y1="1042.5" x2="193" y2="1042.5" stroke="#777" stroke-width="1"/>
<line x1="200" y1="1042.5" x2="253" y2="1042.5" stroke="#777" stroke-width="1"/>
<g clip-path="url(#c25)"><rect x="73.50" y="1050.50" width="186.00" height="30.00" fill="#fcfcfc"/><rect x="111.50" y="1056.00" width="18.00" height="5.00" rx="2.50" fill="#000" opacity="0.06" filter="url(#b2)"/><rect x="142.00" y="1056.50" width="18.00" height="5.00" rx="2.50" fill="#000" opacity="0.07" filter="url(#b2)"/><rect x="174.00" y="1056.00" width="18.00" height="5.00" rx="2.50" fill="#000" opacity="0.09" filter="url(#b2)"/><rect x="204.25" y="1064.05" width="17.50" height="6.50" rx="3.25" fill="#000" opacity="0.95" filter="url(#b15)" transform="rotate(3 213 1067.3)"/><rect x="231.00" y="1063.80" width="20.00" height="6.00" rx="3.00" fill="#000" opacity="0.9" filter="url(#b15)" transform="rotate(-2 241 1066.8)"/><rect x="202.50" y="1057.00" width="22.00" height="14.00" rx="7.00" fill="#000" opacity="0.22" filter="url(#b3)"/><rect x="231.00" y="1057.00" width="22.00" height="14.00" rx="7.00" fill="#000" opacity="0.22" filter="url(#b3)"/></g><rect x="73.50" y="1050.50" width="186.00" height="30.00" fill="none" stroke="#7d7d7d" stroke-width="1"/>
<g clip-path="url(#c26)"><rect x="73.50" y="1086.50" width="186.00" height="30.00" fill="#fbfbfb"/><rect x="82.00" y="1100.00" width="20.00" height="7.00" rx="3.50" fill="#000" opacity="0.08" filter="url(#b2)"/><rect x="111.00" y="1100.25" width="19.00" height="5.50" rx="2.75" fill="#000" opacity="0.28" filter="url(#b2)"/><rect x="141.00" y="1100.25" width="20.00" height="6.50" rx="3.25" fill="#000" opacity="0.3" filter="url(#b2)"/><rect x="175.00" y="1097.55" width="18.00" height="4.50" rx="2.25" fill="#000" opacity="0.75" filter="url(#b15)" transform="rotate(-3 184 1099.8)"/><rect x="172.00" y="1095.00" width="24.00" height="12.00" rx="6.00" fill="#000" opacity="0.2" filter="url(#b3)"/><rect x="203.00" y="1087.00" width="23.00" height="31.00" rx="8.00" fill="#000" opacity="1" filter="url(#b15)"/><rect x="229.80" y="1087.00" width="26.00" height="31.00" rx="8.00" fill="#000" opacity="1" filter="url(#b15)"/><rect x="218.00" y="1090.00" width="20.00" height="18.00" rx="9.00" fill="#000" opacity="1" filter="url(#b15)"/><rect x="198.00" y="1082.00" width="60.00" height="40.00" rx="20.00" fill="#000" opacity="0.3" filter="url(#b3)"/></g><rect x="73.50" y="1086.50" width="186.00" height="30.00" fill="none" stroke="#7d7d7d" stroke-width="1"/>
<g clip-path="url(#c27)"><rect x="73.50" y="1123.50" width="186.00" height="30.00" fill="#f6f6f6"/><rect x="77.00" y="1131.55" width="26.00" height="10.50" rx="3.50" fill="#000" opacity="1" filter="url(#b1)"/><rect x="111.00" y="1132.05" width="23.00" height="10.50" rx="3.50" fill="#000" opacity="1" filter="url(#b1)"/><rect x="139.00" y="1131.55" width="25.00" height="10.50" rx="3.50" fill="#000" opacity="1" filter="url(#b1)"/><rect x="170.50" y="1132.35" width="24.00" height="10.50" rx="3.50" fill="#000" opacity="1" filter="url(#b1)"/><rect x="201.50" y="1132.55" width="25.00" height="10.50" rx="3.50" fill="#000" opacity="1" filter="url(#b1)"/><rect x="230.00" y="1132.55" width="26.00" height="10.50" rx="3.50" fill="#000" opacity="1" filter="url(#b1)"/><rect x="76.00" y="1124.00" width="28.00" height="26.00" rx="13.00" fill="#000" opacity="0.2" filter="url(#b3)"/><rect x="108.50" y="1124.00" width="28.00" height="26.00" rx="13.00" fill="#000" opacity="0.2" filter="url(#b3)"/><rect x="137.50" y="1124.00" width="28.00" height="26.00" rx="13.00" fill="#000" opacity="0.2" filter="url(#b3)"/><rect x="168.50" y="1124.00" width="28.00" height="26.00" rx="13.00" fill="#000" opacity="0.2" filter="url(#b3)"/><rect x="200.00" y="1124.00" width="28.00" height="26.00" rx="13.00" fill="#000" opacity="0.2" filter="url(#b3)"/><rect x="229.00" y="1124.00" width="28.00" height="26.00" rx="13.00" fill="#000" opacity="0.2" filter="url(#b3)"/><rect x="71.00" y="1133.00" width="190.00" height="8.00" rx="4.00" fill="#000" opacity="0.2" filter="url(#b2)"/></g><rect x="73.50" y="1123.50" width="186.00" height="30.00" fill="none" stroke="#7d7d7d" stroke-width="1"/>
<line x1="73.25" y1="1185.5" x2="260.25" y2="1185.5" stroke="#777" stroke-width="1"/>
<rect x="447.95" y="976.70" width="20.35" height="7.10" fill="#fff" stroke="#444" stroke-width="0.9"/>
<rect x="447.95" y="991.70" width="20.35" height="7.10" fill="#000" stroke="#000" stroke-width="0.9"/>
<rect x="448.50" y="1131.50" width="23.00" height="49.50" fill="#fff" stroke="#2a2a2a" stroke-width="1"/>
<line x1="494.5" y1="1034.25" x2="494.5" y2="1038.75" stroke="#444" stroke-width="1"/>
<line x1="488.625" y1="1034.5" x2="499.625" y2="1034.5" stroke="#444" stroke-width="1"/>
<rect x="482.50" y="1039.50" width="23.00" height="141.50" fill="#000" stroke="#000" stroke-width="1"/>
<line x1="528.5" y1="1066.5" x2="528.5" y2="1075.5" stroke="#444" stroke-width="1"/>
<line x1="522.625" y1="1066.5" x2="533.625" y2="1066.5" stroke="#444" stroke-width="1"/>
<rect x="516.50" y="1075.50" width="23.00" height="105.50" fill="#ffa040" stroke="#2a2a2a" stroke-width="1"/>
<polyline points="495,1016.25 528,1016.25 528,1046.5" fill="none" stroke="#777" stroke-width="1"/>
<line x1="443.25" y1="982.9" x2="443.25" y2="1181.9" stroke="#000" stroke-width="1.8"/>
<line x1="437.25" y1="1181" x2="545" y2="1181" stroke="#000" stroke-width="1.8"/>
<line x1="437.25" y1="983.8" x2="443.25" y2="983.8" stroke="#000" stroke-width="1.8"/>
<line x1="437.25" y1="1033.1" x2="443.25" y2="1033.1" stroke="#000" stroke-width="1.8"/>
<line x1="437.25" y1="1082.4" x2="443.25" y2="1082.4" stroke="#000" stroke-width="1.8"/>
<line x1="437.25" y1="1131.7" x2="443.25" y2="1131.7" stroke="#000" stroke-width="1.8"/>
<text transform="translate(404.6 1083.6) rotate(-90) scale(1.06 1)" font-size="13" font-weight="bold" text-anchor="middle" fill="#000" letter-spacing="0.15">UCP1 mRNA expression</text>
<line x1="447.5" y1="1205.5" x2="540.5" y2="1205.5" stroke="#777" stroke-width="1"/>
<line x1="442.5" y1="1230.5" x2="723.75" y2="1230.5" stroke="#777" stroke-width="1"/>
<line x1="670.5" y1="1048.5" x2="718.75" y2="1048.5" stroke="#777" stroke-width="1"/>
<g clip-path="url(#c28)"><rect x="631.50" y="1055.50" width="92.00" height="30.00" fill="#ececec"/><rect x="637.50" y="1067.25" width="17.00" height="4.50" rx="2.25" fill="#000" opacity="0.5" filter="url(#b15)"/><rect x="668.00" y="1067.60" width="19.00" height="4.80" rx="2.40" fill="#000" opacity="0.95" filter="url(#b15)" transform="rotate(-2 677.5 1070)"/><rect x="699.00" y="1068.10" width="20.00" height="4.80" rx="2.40" fill="#000" opacity="0.95" filter="url(#b15)" transform="rotate(2 709 1070.5)"/><rect x="635.00" y="1065.00" width="22.00" height="10.00" rx="5.00" fill="#000" opacity="0.12" filter="url(#b3)"/><rect x="666.50" y="1065.00" width="22.00" height="10.00" rx="5.00" fill="#000" opacity="0.2" filter="url(#b3)"/><rect x="698.00" y="1065.00" width="22.00" height="10.00" rx="5.00" fill="#000" opacity="0.2" filter="url(#b3)"/><rect x="631.50" y="1055.50" width="92.00" height="30.00" fill="#000" opacity="0.18" filter="url(#grain)"/></g><rect x="631.50" y="1055.50" width="92.00" height="30.00" fill="none" stroke="#7d7d7d" stroke-width="1"/>
<g clip-path="url(#c29)"><rect x="631.50" y="1090.50" width="92.00" height="30.00" fill="#f6f6f6"/><rect x="634.00" y="1102.35" width="21.00" height="4.30" rx="2.15" fill="#000" opacity="1" filter="url(#b1)"/><rect x="664.50" y="1103.15" width="22.00" height="4.30" rx="2.15" fill="#000" opacity="1" filter="url(#b1)" transform="rotate(2 675.5 1105.3)"/><rect x="697.00" y="1103.00" width="22.00" height="4.60" rx="2.30" fill="#000" opacity="1" filter="url(#b1)"/><rect x="632.50" y="1100.00" width="24.00" height="10.00" rx="5.00" fill="#000" opacity="0.12" filter="url(#b3)"/><rect x="663.50" y="1100.00" width="24.00" height="10.00" rx="5.00" fill="#000" opacity="0.12" filter="url(#b3)"/><rect x="696.00" y="1100.00" width="24.00" height="10.00" rx="5.00" fill="#000" opacity="0.12" filter="url(#b3)"/></g><rect x="631.50" y="1090.50" width="92.00" height="30.00" fill="none" stroke="#7d7d7d" stroke-width="1"/>
<text x="729.5" y="1108.8" font-size="13.6" font-weight="bold"><tspan font-family="'Liberation Serif', serif" font-weight="normal" font-size="15">β</tspan>-Actin</text>
<line x1="631.25" y1="1148.5" x2="723.75" y2="1148.5" stroke="#777" stroke-width="1"/>
<g stroke="#1e1e1e" stroke-width="0.22">
<text x="24.8" y="23.8" font-size="34.5" font-weight="bold">A</text>
<text x="229" y="76.3" font-size="14" text-anchor="middle">3T3-L1 White</text>
<text x="104.5" y="104.8" font-size="14">CM</text>
<text x="185.5" y="104.8" font-size="14">NR</text>
<text x="271.5" y="104.8" font-size="14">Iso</text>
<text x="125.1" y="223.73" font-size="22.5" text-anchor="middle" stroke="#1e1e1e" stroke-width="0.45">*</text>
<text x="150.9" y="141.73" font-size="22.5" text-anchor="middle" stroke="#1e1e1e" stroke-width="0.45">*</text>
<text x="177.4" y="157.48" font-size="22.5" text-anchor="middle" letter-spacing="1.8" stroke="#1e1e1e" stroke-width="0.45">**</text>
<text x="214.6" y="225.48" font-size="22.5" text-anchor="middle" stroke="#1e1e1e" stroke-width="0.45">*</text>
<text x="242.8" y="206.73" font-size="22.5" text-anchor="middle" letter-spacing="1.8" stroke="#1e1e1e" stroke-width="0.45">**</text>
<text x="267.29999999999995" y="201.23" font-size="22.5" text-anchor="middle" letter-spacing="1.8" stroke="#1e1e1e" stroke-width="0.45">**</text>
<text x="306.79999999999995" y="216.73" font-size="22.5" text-anchor="middle" letter-spacing="1.8" stroke="#1e1e1e" stroke-width="0.45">**</text>
<text x="330.9" y="182.23" font-size="22.5" text-anchor="middle" stroke="#1e1e1e" stroke-width="0.45">*</text>
<text x="359.29999999999995" y="132.98" font-size="22.5" text-anchor="middle" letter-spacing="1.8" stroke="#1e1e1e" stroke-width="0.45">**</text>
<text x="58.75" y="84.44999999999999" font-size="13.3" text-anchor="end">8</text>
<text x="58.75" y="133.64999999999998" font-size="13.3" text-anchor="end">6</text>
<text x="58.75" y="182.85" font-size="13.3" text-anchor="end">4</text>
<text x="58.75" y="232.05" font-size="13.3" text-anchor="end">2</text>
<text x="58.75" y="281.25" font-size="13.3" text-anchor="end">0</text>
<text x="41.5" y="179.3" font-size="10.5" text-anchor="middle" transform="rotate(-90 41.5 179.3)">(Fold Induction)</text>
<text x="32.5" y="294" font-size="14">hours</text>
<text x="85" y="294" font-size="14" text-anchor="middle">3</text>
<text x="123.75" y="294" font-size="14" text-anchor="middle">3</text>
<text x="149.25" y="294" font-size="14" text-anchor="middle">6</text>
<text x="174.5" y="294" font-size="14" text-anchor="middle">1</text>
<text x="213.75" y="294" font-size="14" text-anchor="middle">3</text>
<text x="240" y="294" font-size="14" text-anchor="middle">6</text>
<text x="265" y="294" font-size="14" text-anchor="middle">1</text>
<text x="303.75" y="294" font-size="14" text-anchor="middle">3</text>
<text x="330.5" y="294" font-size="14" text-anchor="middle">6</text>
<text x="356.25" y="294" font-size="14" text-anchor="middle">1</text>
<text x="151.25" y="314.7" font-size="14" text-anchor="middle">UCP1</text>
<text x="242" y="314.7" font-size="14" text-anchor="middle">PGC-1α</text>
<text x="330" y="314.7" font-size="14" text-anchor="middle">Cidea</text>
<text x="399.7" y="23.8" font-size="34.5" font-weight="bold">B</text>
<text x="516.5" y="30" font-size="14" text-anchor="middle">3T3-L1 White</text>
<text x="629.8" y="30" font-size="14" text-anchor="middle">T37i Brown</text>
<text x="697.3" y="30" font-size="14" text-anchor="middle">X9-Beige</text>
<text x="431.3" y="65.4" font-size="14" text-anchor="end">32 -</text>
<text x="431.3" y="121" font-size="14" text-anchor="end">100 -</text>
<text x="431.3" y="142.8" font-size="14" text-anchor="end">70 -</text>
<text x="431.3" y="169" font-size="14" text-anchor="end">55 -</text>
<text x="431.3" y="196" font-size="14" text-anchor="end">35 -</text>
<text x="431.3" y="240.3" font-size="14" text-anchor="end">83 -</text>
<text x="431.3" y="253.8" font-size="14" text-anchor="end">81 -</text>
<text x="431.3" y="272.6" font-size="14" text-anchor="end">83 -</text>
<text x="431.3" y="285.8" font-size="14" text-anchor="end">81 -</text>
<text x="431.3" y="315.4" font-size="14" text-anchor="end">43 -</text>
<text x="731.5" y="68" font-size="13.6" font-weight="bold">UCP1</text>
<text x="733" y="244.6" font-size="13.6" font-weight="bold">HSLpS660</text>
<text x="733" y="282.2" font-size="13.6" font-weight="bold">HSL</text>
<text x="752.5" y="151" font-size="13.6" text-anchor="middle" font-weight="bold" transform="rotate(-90 752.5 151)">PKA-Ser-substrates</text>
<text x="457" y="338" font-size="14" text-anchor="end" transform="rotate(-45 457 338)">CM</text>
<text x="478" y="341.2" font-size="14" text-anchor="middle">4</text>
<text x="501" y="341.2" font-size="14">8 h</text>
<text x="493" y="362" font-size="14" text-anchor="middle">NR</text>
<text x="547" y="341" font-size="14" text-anchor="middle">-</text>
<text x="577" y="341.5" font-size="14" text-anchor="middle">+</text>
<text x="564" y="362" font-size="14" text-anchor="middle">Iso (1h)</text>
<text x="617" y="338" font-size="14" text-anchor="end" transform="rotate(-45 617 338)">CM</text>
<text x="648.5" y="337.7" font-size="14" text-anchor="end" transform="rotate(-45 648.5 337.7)">NR (4h)</text>
<text x="683" y="338" font-size="14" text-anchor="end" transform="rotate(-45 683 338)">CM</text>
<text x="715.5" y="337.7" font-size="14" text-anchor="end" transform="rotate(-45 715.5 337.7)">NR (4h)</text>
<text x="24.7" y="390.1" font-size="34.5" font-weight="bold">C</text>
<text x="99.25" y="373.05" font-size="14">CM</text>
<text x="159.25" y="373.05" font-size="14">NR (4h)</text>
<text x="247.5" y="373.05" font-size="14">Re-feed</text>
<text x="122.0" y="414.23" font-size="22.5" text-anchor="middle" letter-spacing="1.8" stroke="#1e1e1e" stroke-width="0.45">**</text>
<text x="181.1" y="459.93" font-size="22.5" text-anchor="middle" letter-spacing="1.8" stroke="#1e1e1e" stroke-width="0.45">**</text>
<text x="241.5" y="458.48" font-size="22.5" text-anchor="middle" letter-spacing="1.8" stroke="#1e1e1e" stroke-width="0.45">**</text>
<text x="131.25" y="391.25" font-size="10.5" text-anchor="middle" stroke-width="0.6">o</text>
<text x="191.75" y="437.25" font-size="10.5" text-anchor="middle" stroke-width="0.6">o</text>
<text x="251.25" y="436.75" font-size="10.5" text-anchor="middle" stroke-width="0.6">o</text>
<text x="58.0" y="403.75" font-size="13.3" text-anchor="end">4</text>
<text x="58.0" y="453.0" font-size="13.3" text-anchor="end">3</text>
<text x="58.0" y="502.25" font-size="13.3" text-anchor="end">2</text>
<text x="58.0" y="551.5" font-size="13.3" text-anchor="end">1</text>
<text x="58.0" y="600.75" font-size="13.3" text-anchor="end">0</text>
<text x="41" y="499.3" font-size="10.5" text-anchor="middle" transform="rotate(-90 41 499.3)">(Fold Induction)</text>
<text x="132.5" y="617.2" font-size="14" text-anchor="middle">UCP1</text>
<text x="193" y="617.2" font-size="14" text-anchor="middle">PGC-1α</text>
<text x="253.5" y="617.2" font-size="14" text-anchor="middle">Cidea</text>
<text x="347.0" y="390.1" font-size="34.5" font-weight="bold">D</text>
<text x="507" y="398.8" font-size="14" text-anchor="middle">X9-Beige</text>
<text x="437.5" y="428.8" font-size="14">CM</text>
<text x="437.5" y="443.55" font-size="14">NR</text>
<text x="439.0" y="503.73" font-size="22.5" text-anchor="middle" letter-spacing="1.8" stroke="#1e1e1e" stroke-width="0.45">**</text>
<text x="460.79999999999995" y="507.23" font-size="22.5" text-anchor="middle" letter-spacing="1.8" stroke="#1e1e1e" stroke-width="0.45">**</text>
<text x="514.3" y="479.23" font-size="22.5" text-anchor="middle" letter-spacing="1.8" stroke="#1e1e1e" stroke-width="0.45">**</text>
<text x="535.5" y="448.73" font-size="22.5" text-anchor="middle" letter-spacing="1.8" stroke="#1e1e1e" stroke-width="0.45">**</text>
<text x="610.4" y="524.23" font-size="22.5" text-anchor="middle" stroke="#1e1e1e" stroke-width="0.45">*</text>
<text x="392.5" y="404.5" font-size="13.3" text-anchor="end">4</text>
<text x="392.5" y="453.75" font-size="13.3" text-anchor="end">3</text>
<text x="392.5" y="503.0" font-size="13.3" text-anchor="end">2</text>
<text x="392.5" y="552.25" font-size="13.3" text-anchor="end">1</text>
<text x="392.5" y="601.5" font-size="13.3" text-anchor="end">0</text>
<text x="376" y="499.3" font-size="10.5" text-anchor="middle" transform="rotate(-90 376 499.3)">(Fold Induction)</text>
<text x="413.75" y="615.2" font-size="14" text-anchor="middle">4</text>
<text x="439.5" y="615.2" font-size="14" text-anchor="middle">2</text>
<text x="461.25" y="615.2" font-size="14" text-anchor="middle">4</text>
<text x="489.25" y="615.2" font-size="14" text-anchor="middle">4</text>
<text x="512.5" y="615.2" font-size="14" text-anchor="middle">2</text>
<text x="535.5" y="615.2" font-size="14" text-anchor="middle">4</text>
<text x="563.75" y="615.2" font-size="14" text-anchor="middle">4</text>
<text x="586.25" y="615.2" font-size="14" text-anchor="middle">2</text>
<text x="603.8" y="615.2" font-size="14">4 h</text>
<text x="436.75" y="641.8" font-size="14" text-anchor="middle">UCP1</text>
<text x="513.25" y="641.8" font-size="14" text-anchor="middle">PGC-1α</text>
<text x="586.25" y="641.8" font-size="14" text-anchor="middle">Cidea</text>
<text x="86.5" y="710" font-size="14" text-anchor="middle">iWAT</text>
<text x="150.7" y="710" font-size="14" text-anchor="middle">eWAT</text>
<text x="53.8" y="729.2" font-size="14" text-anchor="end">32 -</text>
<text x="186.2" y="738" font-size="13.6" font-weight="bold">UCP1</text>
<text x="186.5" y="798" font-size="13.6" text-anchor="middle" font-weight="bold" transform="rotate(90 186.5 798)">Ponceau</text>
<text x="76" y="855.8" font-size="14" text-anchor="end" transform="rotate(-45 76 855.8)">CM</text>
<text x="109" y="855.8" font-size="14" text-anchor="end" transform="rotate(-45 109 855.8)">NR (4h)</text>
<text x="143" y="855.8" font-size="14" text-anchor="end" transform="rotate(-45 143 855.8)">CM</text>
<text x="176" y="855.8" font-size="14" text-anchor="end" transform="rotate(-45 176 855.8)">NR (4h)</text>
<text x="338.25" y="688.8" font-size="14">eWAT</text>
<text x="338.25" y="704.8" font-size="14">iWAT</text>
<text x="355.6" y="786.73" font-size="22.5" text-anchor="middle" stroke="#1e1e1e" stroke-width="0.45">*</text>
<text x="393.15" y="706.23" font-size="22.5" text-anchor="middle" letter-spacing="1.8" stroke="#1e1e1e" stroke-width="0.45">**</text>
<text x="294.5" y="685.0" font-size="13.3" text-anchor="end">3</text>
<text x="294.5" y="750.5" font-size="13.3" text-anchor="end">2</text>
<text x="294.5" y="816.0" font-size="13.3" text-anchor="end">1</text>
<text x="294.5" y="881.5" font-size="13.3" text-anchor="end">0</text>
<text x="278" y="779.3" font-size="10.5" text-anchor="middle" transform="rotate(-90 278 779.3)">(Fold Induction)</text>
<text x="328.5" y="889" font-size="14" text-anchor="end" transform="rotate(-45 328.5 889)">CM</text>
<text x="373.5" y="901.3" font-size="14" text-anchor="middle">NR (4h)</text>
<text x="229.5" y="928" font-size="14" text-anchor="middle" font-style="italic">Primary Cells</text>
<text x="447.7" y="689.8" font-size="34.5" font-weight="bold">G</text>
<text x="549.5" y="708.8" font-size="14" text-anchor="middle">BAT</text>
<text x="516.3" y="726.9" font-size="14" text-anchor="end">32 -</text>
<text x="585.7" y="738.8" font-size="13.6" font-weight="bold">UCP1</text>
<text x="586" y="796.5" font-size="13.6" text-anchor="middle" font-weight="bold" transform="rotate(90 586 796.5)">Ponceau</text>
<text x="536" y="858.5" font-size="14" text-anchor="end" transform="rotate(-45 536 858.5)">CM</text>
<text x="572" y="855.7" font-size="14" text-anchor="end" transform="rotate(-45 572 855.7)">NR (4h)</text>
<text x="532" y="917.3" font-size="14" text-anchor="middle" font-style="italic">Primary Cells</text>
<text x="741.25" y="691.8" font-size="14">BAT</text>
<text x="742.6" y="788.48" font-size="22.5" text-anchor="middle" stroke="#1e1e1e" stroke-width="0.45">*</text>
<text x="695.75" y="685.95" font-size="13.3" text-anchor="end">1.5</text>
<text x="695.75" y="751.55" font-size="13.3" text-anchor="end">1.0</text>
<text x="695.75" y="817.15" font-size="13.3" text-anchor="end">0.5</text>
<text x="695.75" y="882.75" font-size="13.3" text-anchor="end">0.0</text>
<text x="667" y="780.3" font-size="10.5" text-anchor="middle" transform="rotate(-90 667 780.3)">(Fold Induction)</text>
<text x="722.5" y="889.5" font-size="14" text-anchor="end" transform="rotate(-45 722.5 889.5)">CM</text>
<text x="751.3" y="889.7" font-size="14" text-anchor="end" transform="rotate(-45 751.3 889.7)">NR (4h)</text>
<text x="24.7" y="990.2" font-size="34.5" font-weight="bold">H</text>
<text x="172.3" y="1007" font-size="14" text-anchor="middle">Mitochondria</text>
<text x="106.2" y="1037.5" font-size="14" text-anchor="middle">eWAT</text>
<text x="167" y="1037.5" font-size="14" text-anchor="middle">iWAT</text>
<text x="227.2" y="1037.5" font-size="14" text-anchor="middle">BAT</text>
<text x="71.3" y="1061.8" font-size="14" text-anchor="end">32 -</text>
<text x="71.3" y="1097" font-size="14" text-anchor="end">32 -</text>
<text x="71.3" y="1141" font-size="14" text-anchor="end">20 -</text>
<text x="267.3" y="1065" font-size="13.6" font-weight="bold">UCP1</text>
<text x="267.5" y="1078.8" font-size="11.5">Low Exposure</text>
<text x="267.3" y="1100.2" font-size="13.6" font-weight="bold">UCP1</text>
<text x="267.5" y="1114.5" font-size="11.5">High Exposure</text>
<text x="267.3" y="1143.3" font-size="13.6" font-weight="bold">TOMM20</text>
<text x="30.5" y="1172.8" font-size="14">Fasting</text>
<text x="92.5" y="1174.2" font-size="13" text-anchor="middle">-</text>
<text x="120.5" y="1174.2" font-size="13" text-anchor="middle">+</text>
<text x="155.5" y="1174.2" font-size="13" text-anchor="middle">-</text>
<text x="183.75" y="1174.2" font-size="13" text-anchor="middle">+</text>
<text x="213.75" y="1174.2" font-size="13" text-anchor="middle">-</text>
<text x="244.25" y="1174.2" font-size="13" text-anchor="middle">+</text>
<text x="165" y="1204" font-size="14" text-anchor="middle" font-style="italic">CD 1</text>
<text x="373.6" y="990.2" font-size="34.5" font-weight="bold">I</text>
<text x="480.75" y="985.55" font-size="14" font-style="italic">Ad lib</text>
<text x="481.25" y="1000.55" font-size="14">Fasting</text>
<text x="495.65" y="1037.23" font-size="22.5" text-anchor="middle" letter-spacing="1.8" stroke="#1e1e1e" stroke-width="0.45">**</text>
<text x="528.9" y="1069.73" font-size="22.5" text-anchor="middle" stroke="#1e1e1e" stroke-width="0.45">*</text>
<text x="512.3" y="1013.8" font-size="11.5" text-anchor="middle">ns</text>
<text x="435.75" y="988.3" font-size="13.3" text-anchor="end">4</text>
<text x="435.75" y="1037.6" font-size="13.3" text-anchor="end">3</text>
<text x="435.75" y="1086.9" font-size="13.3" text-anchor="end">2</text>
<text x="435.75" y="1136.2" font-size="13.3" text-anchor="end">1</text>
<text x="435.75" y="1185.5" font-size="13.3" text-anchor="end">0</text>
<text x="418.75" y="1083.3" font-size="10.5" text-anchor="middle" transform="rotate(-90 418.75 1083.3)">(Fold Induction)</text>
<text x="378.75" y="1199.8" font-size="14">SR59230A</text>
<text x="459.25" y="1199.8" font-size="13" text-anchor="middle">-</text>
<text x="493.75" y="1199.8" font-size="13" text-anchor="middle">-</text>
<text x="528.75" y="1199.8" font-size="13" text-anchor="middle">+</text>
<text x="495" y="1224" font-size="14" text-anchor="middle">iWAT</text>
<text x="588.5" y="1250.3" font-size="14" text-anchor="middle" font-style="italic">C57BL/6</text>
<text x="596.0" y="990.6" font-size="34.5" font-weight="bold">J</text>
<text x="647.5" y="1050" font-size="14" font-style="italic" transform="rotate(-45 647.5 1050)">Ad libitum</text>
<text x="695" y="1041.8" font-size="14" text-anchor="middle">Fasting</text>
<text x="629.5" y="1065.3" font-size="14" text-anchor="end">32 -</text>
<text x="629.5" y="1108.3" font-size="14" text-anchor="end">43 -</text>
<text x="730.3" y="1075.8" font-size="13.6" font-weight="bold">UCP1</text>
<text x="565.3" y="1139.8" font-size="14">SR59230A</text>
<text x="645" y="1139.8" font-size="13" text-anchor="middle">-</text>
<text x="676.75" y="1139.8" font-size="13" text-anchor="middle">-</text>
<text x="708.25" y="1139.8" font-size="13" text-anchor="middle">+</text>
<text x="678.5" y="1167.3" font-size="14" text-anchor="middle">iWAT</text>
</g>
</svg>
</body></html>
